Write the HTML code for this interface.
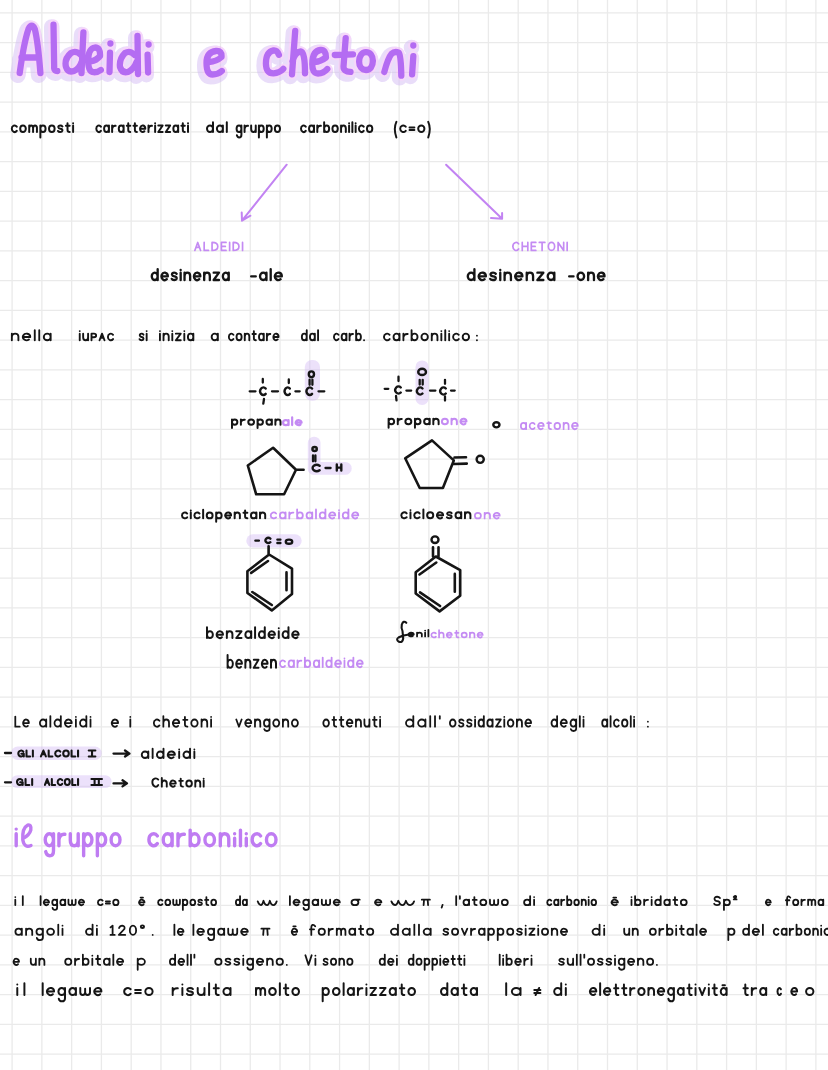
<!DOCTYPE html>
<html><head><meta charset="utf-8"><title>Aldeidi e chetoni</title>
<style>html,body{margin:0;padding:0;background:#fff;width:828px;height:1070px;overflow:hidden}
svg{display:block;font-family:"Liberation Sans",sans-serif}</style></head>
<body>
<svg width="828" height="1070" viewBox="0 0 828 1070"><rect width="828" height="1070" fill="#ffffff"/><g stroke="#eaeaea" stroke-width="1.3">
<line x1="12.10" y1="0" x2="12.10" y2="1070"/>
<line x1="41.87" y1="0" x2="41.87" y2="1070"/>
<line x1="71.64" y1="0" x2="71.64" y2="1070"/>
<line x1="101.41" y1="0" x2="101.41" y2="1070"/>
<line x1="131.18" y1="0" x2="131.18" y2="1070"/>
<line x1="160.95" y1="0" x2="160.95" y2="1070"/>
<line x1="190.72" y1="0" x2="190.72" y2="1070"/>
<line x1="220.49" y1="0" x2="220.49" y2="1070"/>
<line x1="250.26" y1="0" x2="250.26" y2="1070"/>
<line x1="280.03" y1="0" x2="280.03" y2="1070"/>
<line x1="309.80" y1="0" x2="309.80" y2="1070"/>
<line x1="339.57" y1="0" x2="339.57" y2="1070"/>
<line x1="369.34" y1="0" x2="369.34" y2="1070"/>
<line x1="399.11" y1="0" x2="399.11" y2="1070"/>
<line x1="428.88" y1="0" x2="428.88" y2="1070"/>
<line x1="458.65" y1="0" x2="458.65" y2="1070"/>
<line x1="488.42" y1="0" x2="488.42" y2="1070"/>
<line x1="518.19" y1="0" x2="518.19" y2="1070"/>
<line x1="547.96" y1="0" x2="547.96" y2="1070"/>
<line x1="577.73" y1="0" x2="577.73" y2="1070"/>
<line x1="607.50" y1="0" x2="607.50" y2="1070"/>
<line x1="637.27" y1="0" x2="637.27" y2="1070"/>
<line x1="667.04" y1="0" x2="667.04" y2="1070"/>
<line x1="696.81" y1="0" x2="696.81" y2="1070"/>
<line x1="726.58" y1="0" x2="726.58" y2="1070"/>
<line x1="756.35" y1="0" x2="756.35" y2="1070"/>
<line x1="786.12" y1="0" x2="786.12" y2="1070"/>
<line x1="815.89" y1="0" x2="815.89" y2="1070"/>
<line x1="0" y1="12.90" x2="828" y2="12.90"/>
<line x1="0" y1="42.65" x2="828" y2="42.65"/>
<line x1="0" y1="72.40" x2="828" y2="72.40"/>
<line x1="0" y1="102.15" x2="828" y2="102.15"/>
<line x1="0" y1="131.90" x2="828" y2="131.90"/>
<line x1="0" y1="161.65" x2="828" y2="161.65"/>
<line x1="0" y1="191.40" x2="828" y2="191.40"/>
<line x1="0" y1="221.15" x2="828" y2="221.15"/>
<line x1="0" y1="250.90" x2="828" y2="250.90"/>
<line x1="0" y1="280.65" x2="828" y2="280.65"/>
<line x1="0" y1="310.40" x2="828" y2="310.40"/>
<line x1="0" y1="340.15" x2="828" y2="340.15"/>
<line x1="0" y1="369.90" x2="828" y2="369.90"/>
<line x1="0" y1="399.65" x2="828" y2="399.65"/>
<line x1="0" y1="429.40" x2="828" y2="429.40"/>
<line x1="0" y1="459.15" x2="828" y2="459.15"/>
<line x1="0" y1="488.90" x2="828" y2="488.90"/>
<line x1="0" y1="518.65" x2="828" y2="518.65"/>
<line x1="0" y1="548.40" x2="828" y2="548.40"/>
<line x1="0" y1="578.15" x2="828" y2="578.15"/>
<line x1="0" y1="607.90" x2="828" y2="607.90"/>
<line x1="0" y1="637.65" x2="828" y2="637.65"/>
<line x1="0" y1="667.40" x2="828" y2="667.40"/>
<line x1="0" y1="697.15" x2="828" y2="697.15"/>
<line x1="0" y1="726.90" x2="828" y2="726.90"/>
<line x1="0" y1="756.65" x2="828" y2="756.65"/>
<line x1="0" y1="786.40" x2="828" y2="786.40"/>
<line x1="0" y1="816.15" x2="828" y2="816.15"/>
<line x1="0" y1="845.90" x2="828" y2="845.90"/>
<line x1="0" y1="875.65" x2="828" y2="875.65"/>
<line x1="0" y1="905.40" x2="828" y2="905.40"/>
<line x1="0" y1="935.15" x2="828" y2="935.15"/>
<line x1="0" y1="964.90" x2="828" y2="964.90"/>
<line x1="0" y1="994.65" x2="828" y2="994.65"/>
<line x1="0" y1="1024.40" x2="828" y2="1024.40"/>
<line x1="0" y1="1054.15" x2="828" y2="1054.15"/>
</g>
<g opacity="0.42"><rect x="304.8" y="360" width="15.20" height="40.70" rx="7" fill="#d2b8f5"/>
<rect x="415.5" y="360.4" width="13.20" height="44.60" rx="6.5" fill="#d2b8f5"/>
<rect x="307.8" y="436.8" width="12.70" height="38.00" rx="6" fill="#d2b8f5"/>
<rect x="307.8" y="462" width="43.90" height="12.80" rx="6.4" fill="#d2b8f5"/>
<rect x="246.3" y="534.3" width="55.40" height="13.10" rx="6.550000000000011" fill="#d2b8f5"/>
<rect x="11" y="746.6" width="90.70" height="13.40" rx="6.7" fill="#d2b8f5"/>
<rect x="11" y="775.2" width="100.60" height="12.80" rx="6.4" fill="#d2b8f5"/></g>
<g fill="none" stroke-linecap="round" stroke-linejoin="round"><g opacity="0.5"><path d="M19.7,73 Q24,42 28.5,29 Q31.7,22.5 34.8,29 Q38,42 40.4,73 M21.5,57.5 L39,57.5 M53.5,24.7 L54.2,68.5 Q54.6,71 57.3,71 M81,55 Q76,50 71,53 Q64,59 66,67 Q68,73 74,71 Q80,68 81.5,62 M83.4,32.4 L81.5,73 M90.5,61.5 Q96.5,60.5 100,56 Q100.5,47.5 95,47.5 Q88,48.5 88.2,61.5 Q88.5,72 93.5,72.2 Q97.5,72.5 100.8,70 M110.4,43.5 L110.4,43.6 M110,52.7 L109.5,72 M134.5,55 Q130,50 125,53 Q119,59 120,67 Q122,73.5 128,72 Q134,69 136.5,62 M137.5,35.8 L138,74 M148.6,44.5 L148.6,44.6 M147.6,54.6 L148.1,72.5 M209,62 Q216.5,61.5 221.5,57 Q222,50.5 216,51 Q206.5,52 206.5,63 Q206.5,74.5 212.5,74.5 Q218,74.5 221.8,71 M278.9,54.8 Q277,50 273.5,50.4 Q266,52 265.9,63.5 Q266,73.5 273.5,73.3 Q279.5,73 283.3,68.9 M295.2,30.9 L292,74.3 M292.5,61.3 Q295,52 300.7,51.5 Q305,52 305,73.3 M314.5,62 Q321,61.5 326,57.5 Q326,49.5 320.5,50 Q312.5,51 312.3,63.5 Q312,73.5 318,73.5 Q323.5,73.5 327.3,69 M345.7,38.1 L343.5,66.5 Q343.5,72 350.5,71.9 M334.8,55 L353,54.4 M366,52.1 C361.9,52.1 359.1,56.3 359.1,61.5 C359.1,66.5 361.9,70 366,70 C370.2,70 372.9,66 372.9,60.8 C372.9,55.8 370.2,52.1 366,52.1 Z M384.3,72 Q388,58 391.6,53.8 Q394.5,51 398.8,52.6 Q401,56 401.3,75.6 M413.3,45.4 L413.3,45.5 M413.3,56.2 L412.1,74.3" stroke="#d4bcf5" stroke-width="15.5" transform="translate(-1.8,2.2)"/><path d="M19.7,73 Q24,42 28.5,29 Q31.7,22.5 34.8,29 Q38,42 40.4,73 M21.5,57.5 L39,57.5 M53.5,24.7 L54.2,68.5 Q54.6,71 57.3,71 M81,55 Q76,50 71,53 Q64,59 66,67 Q68,73 74,71 Q80,68 81.5,62 M83.4,32.4 L81.5,73 M90.5,61.5 Q96.5,60.5 100,56 Q100.5,47.5 95,47.5 Q88,48.5 88.2,61.5 Q88.5,72 93.5,72.2 Q97.5,72.5 100.8,70 M110.4,43.5 L110.4,43.6 M110,52.7 L109.5,72 M134.5,55 Q130,50 125,53 Q119,59 120,67 Q122,73.5 128,72 Q134,69 136.5,62 M137.5,35.8 L138,74 M148.6,44.5 L148.6,44.6 M147.6,54.6 L148.1,72.5 M209,62 Q216.5,61.5 221.5,57 Q222,50.5 216,51 Q206.5,52 206.5,63 Q206.5,74.5 212.5,74.5 Q218,74.5 221.8,71 M278.9,54.8 Q277,50 273.5,50.4 Q266,52 265.9,63.5 Q266,73.5 273.5,73.3 Q279.5,73 283.3,68.9 M295.2,30.9 L292,74.3 M292.5,61.3 Q295,52 300.7,51.5 Q305,52 305,73.3 M314.5,62 Q321,61.5 326,57.5 Q326,49.5 320.5,50 Q312.5,51 312.3,63.5 Q312,73.5 318,73.5 Q323.5,73.5 327.3,69 M345.7,38.1 L343.5,66.5 Q343.5,72 350.5,71.9 M334.8,55 L353,54.4 M366,52.1 C361.9,52.1 359.1,56.3 359.1,61.5 C359.1,66.5 361.9,70 366,70 C370.2,70 372.9,66 372.9,60.8 C372.9,55.8 370.2,52.1 366,52.1 Z M384.3,72 Q388,58 391.6,53.8 Q394.5,51 398.8,52.6 Q401,56 401.3,75.6 M413.3,45.4 L413.3,45.5 M413.3,56.2 L412.1,74.3" stroke="#efb0f7" stroke-width="10.5"/></g><path d="M19.7,73 Q24,42 28.5,29 Q31.7,22.5 34.8,29 Q38,42 40.4,73 M21.5,57.5 L39,57.5 M53.5,24.7 L54.2,68.5 Q54.6,71 57.3,71 M81,55 Q76,50 71,53 Q64,59 66,67 Q68,73 74,71 Q80,68 81.5,62 M83.4,32.4 L81.5,73 M90.5,61.5 Q96.5,60.5 100,56 Q100.5,47.5 95,47.5 Q88,48.5 88.2,61.5 Q88.5,72 93.5,72.2 Q97.5,72.5 100.8,70 M110.4,43.5 L110.4,43.6 M110,52.7 L109.5,72 M134.5,55 Q130,50 125,53 Q119,59 120,67 Q122,73.5 128,72 Q134,69 136.5,62 M137.5,35.8 L138,74 M148.6,44.5 L148.6,44.6 M147.6,54.6 L148.1,72.5 M209,62 Q216.5,61.5 221.5,57 Q222,50.5 216,51 Q206.5,52 206.5,63 Q206.5,74.5 212.5,74.5 Q218,74.5 221.8,71 M278.9,54.8 Q277,50 273.5,50.4 Q266,52 265.9,63.5 Q266,73.5 273.5,73.3 Q279.5,73 283.3,68.9 M295.2,30.9 L292,74.3 M292.5,61.3 Q295,52 300.7,51.5 Q305,52 305,73.3 M314.5,62 Q321,61.5 326,57.5 Q326,49.5 320.5,50 Q312.5,51 312.3,63.5 Q312,73.5 318,73.5 Q323.5,73.5 327.3,69 M345.7,38.1 L343.5,66.5 Q343.5,72 350.5,71.9 M334.8,55 L353,54.4 M366,52.1 C361.9,52.1 359.1,56.3 359.1,61.5 C359.1,66.5 361.9,70 366,70 C370.2,70 372.9,66 372.9,60.8 C372.9,55.8 370.2,52.1 366,52.1 Z M384.3,72 Q388,58 391.6,53.8 Q394.5,51 398.8,52.6 Q401,56 401.3,75.6 M413.3,45.4 L413.3,45.5 M413.3,56.2 L412.1,74.3" stroke="#b46cf2" stroke-width="6.3"/></g>
<g fill="none" stroke-linecap="round" stroke-linejoin="round"><path d="M16.74,126.65C15.98,125.6 14.74,125.27 13.63,125.69C12.53,126.16 11.79,127.38 11.79,128.75C11.79,130.12 12.53,131.34 13.63,131.81C14.74,132.39 15.98,131.9 16.74,130.85M25.8,128.75C25.8,130.55 24.54,132.01 23,132.01C21.45,132.01 20.19,130.55 20.19,128.75C20.19,126.95 21.45,125.49 23,125.49C24.54,125.49 25.8,126.95 25.8,128.75M29.22,125.49L29.22,132.01M29.22,128.1Q29.53,125.49 31.15,125.49Q33.08,125.49 33.08,128.1L33.08,132.01M33.08,128.1Q33.39,125.49 35.01,125.49Q36.94,125.49 36.94,128.1L36.94,132.01M40.36,125.49L40.36,137.49M45.59,128.75C45.59,130.55 44.42,132.01 42.98,132.01C41.54,132.01 40.36,130.55 40.36,128.75C40.36,126.95 41.54,125.49 42.98,125.49C44.42,125.49 45.59,126.95 45.59,128.75M54.62,128.75C54.62,130.55 53.37,132.01 51.82,132.01C50.27,132.01 49.02,130.55 49.02,128.75C49.02,126.95 50.27,125.49 51.82,125.49C53.37,125.49 54.62,126.95 54.62,128.75M62.4,126.47Q61.78,125.49 60.29,125.49Q58.17,125.49 58.29,127.19Q58.54,128.62 60.41,128.75Q62.53,129.01 62.4,130.58Q62.15,132.01 60.16,132.01Q58.54,132.01 58.04,130.97M67.51,123.14L67.51,130.05Q67.51,132.01 69.69,132.01M65.95,125.82L69.69,125.82M73.11,125.49L73.11,132.01M73.11,123.14L73.12,123.14M100.88,126.65C100.18,125.6 99.03,125.27 98,125.69C96.97,126.16 96.29,127.38 96.29,128.75C96.29,130.12 96.97,131.34 98,131.81C99.03,132.39 100.18,131.9 100.88,130.85M108.95,128.75C108.95,130.55 107.86,132.01 106.52,132.01C105.18,132.01 104.09,130.55 104.09,128.75C104.09,126.95 105.18,125.49 106.52,125.49C107.86,125.49 108.95,126.95 108.95,128.75M108.95,125.49L108.95,132.01M112.13,125.49L112.13,132.01M112.13,128.75Q112.7,125.49 115.59,125.82M123.63,128.75C123.63,130.55 122.54,132.01 121.2,132.01C119.86,132.01 118.77,130.55 118.77,128.75C118.77,126.95 119.86,125.49 121.2,125.49C122.54,125.49 123.63,126.95 123.63,128.75M123.63,125.49L123.63,132.01M128.25,123.14L128.25,130.05Q128.25,132.01 130.27,132.01M126.81,125.82L130.27,125.82M134.9,123.14L134.9,130.05Q134.9,132.01 136.92,132.01M133.45,125.82L136.92,125.82M140.33,128.75L145.3,128.75C145.3,127.22 144.45,125.9 143.26,125.57C142.07,125.29 140.86,125.99 140.34,127.37C139.83,128.76 140.15,130.41 141.12,131.34C142.08,132.37 143.44,132.32 144.37,131.25M148.48,125.49L148.48,132.01M148.48,128.75Q149.06,125.49 151.95,125.82M155.12,125.49L155.12,132.01M155.12,123.14L155.13,123.14M158.3,125.49L162.64,125.49L158.3,132.01L162.64,132.01M165.82,125.49L170.15,125.49L165.82,132.01L170.15,132.01M178.18,128.75C178.18,130.55 177.1,132.01 175.76,132.01C174.42,132.01 173.33,130.55 173.33,128.75C173.33,126.95 174.42,125.49 175.76,125.49C177.1,125.49 178.18,126.95 178.18,128.75M178.18,125.49L178.18,132.01M182.81,123.14L182.81,130.05Q182.81,132.01 184.83,132.01M181.36,125.82L184.83,125.82M188.01,125.49L188.01,132.01M188.01,123.14L188.02,123.14M212.98,128.75C212.98,130.55 211.64,132.01 209.98,132.01C208.33,132.01 206.99,130.55 206.99,128.75C206.99,126.95 208.33,125.49 209.98,125.49C211.64,125.49 212.98,126.95 212.98,128.75M212.98,122.36L212.98,132.01M222.89,128.75C222.89,130.55 221.55,132.01 219.89,132.01C218.24,132.01 216.9,130.55 216.9,128.75C216.9,126.95 218.24,125.49 219.89,125.49C221.55,125.49 222.89,126.95 222.89,128.75M222.89,125.49L222.89,132.01M226.81,122.36L226.81,132.01M241.41,128.75C241.41,130.55 240.33,132.01 239,132.01C237.67,132.01 236.59,130.55 236.59,128.75C236.59,126.95 237.67,125.49 239,125.49C240.33,125.49 241.41,126.95 241.41,128.75M241.41,125.49L241.41,134.75Q241.41,137.49 239.17,137.49Q237.28,137.49 236.88,135.2M244.56,125.49L244.56,132.01M244.56,128.75Q245.14,125.49 248,125.82M251.16,125.49L251.16,129.08Q251.16,132.01 253.45,132.01Q255.75,132.01 255.75,129.08M255.75,125.49L255.75,132.01M258.9,125.49L258.9,137.49M263.72,128.75C263.72,130.55 262.64,132.01 261.31,132.01C259.98,132.01 258.9,130.55 258.9,128.75C258.9,126.95 259.98,125.49 261.31,125.49C262.64,125.49 263.72,126.95 263.72,128.75M266.88,125.49L266.88,137.49M271.69,128.75C271.69,130.55 270.61,132.01 269.28,132.01C267.95,132.01 266.88,130.55 266.88,128.75C266.88,126.95 267.95,125.49 269.28,125.49C270.61,125.49 271.69,126.95 271.69,128.75M280.01,128.75C280.01,130.55 278.85,132.01 277.43,132.01C276,132.01 274.85,130.55 274.85,128.75C274.85,126.95 276,125.49 277.43,125.49C278.85,125.49 280.01,126.95 280.01,128.75M305.72,126.65C305,125.6 303.81,125.27 302.75,125.69C301.69,126.16 300.99,127.38 300.99,128.75C300.99,130.12 301.69,131.34 302.75,131.81C303.81,132.39 305,131.9 305.72,130.85M314.03,128.75C314.03,130.55 312.91,132.01 311.53,132.01C310.15,132.01 309.03,130.55 309.03,128.75C309.03,126.95 310.15,125.49 311.53,125.49C312.91,125.49 314.03,126.95 314.03,128.75M314.03,125.49L314.03,132.01M317.3,125.49L317.3,132.01M317.3,128.75Q317.9,125.49 320.87,125.82M324.15,122.36L324.15,132.01M329.15,128.75C329.15,130.55 328.03,132.01 326.65,132.01C325.27,132.01 324.15,130.55 324.15,128.75C324.15,126.95 325.27,125.49 326.65,125.49C328.03,125.49 329.15,126.95 329.15,128.75M337.78,128.75C337.78,130.55 336.58,132.01 335.1,132.01C333.62,132.01 332.42,130.55 332.42,128.75C332.42,126.95 333.62,125.49 335.1,125.49C336.58,125.49 337.78,126.95 337.78,128.75M341.06,125.49L341.06,132.01M341.06,128.42Q341.35,125.49 343.44,125.49Q345.82,125.49 345.82,128.42L345.82,132.01M349.09,125.49L349.09,132.01M349.09,123.14L349.1,123.14M352.37,122.36L352.37,132.01M355.64,125.49L355.64,132.01M355.64,123.14L355.65,123.14M363.65,126.65C362.92,125.6 361.74,125.27 360.68,125.69C359.62,126.16 358.92,127.38 358.92,128.75C358.92,130.12 359.62,131.34 360.68,131.81C361.74,132.39 362.92,131.9 363.65,130.85M372.31,128.75C372.31,130.55 371.11,132.01 369.63,132.01C368.15,132.01 366.95,130.55 366.95,128.75C366.95,126.95 368.15,125.49 369.63,125.49C371.11,125.49 372.31,126.95 372.31,128.75M396.37,121.84Q393.25,128.42 396.37,137.49M405.68,126.65C404.84,125.6 403.46,125.27 402.23,125.69C401,126.16 400.18,127.38 400.18,128.75C400.18,130.12 401,131.34 402.23,131.81C403.46,132.39 404.84,131.9 405.68,130.85M409.53,127.45L414.38,127.45M409.53,130.05L414.38,130.05M424.42,128.75C424.42,130.55 423.03,132.01 421.31,132.01C419.58,132.01 418.19,130.55 418.19,128.75C418.19,126.95 419.58,125.49 421.31,125.49C423.03,125.49 424.42,126.95 424.42,128.75M428.23,121.84Q431.35,128.42 428.23,137.49" stroke="#151515" stroke-width="1.98"/>
<path d="M194.85,250.45L197.72,242.45L200.59,250.45M195.93,247.41L199.51,247.41M204.17,242.45L204.17,250.45L208.48,250.45M212.07,242.45L212.07,250.45Q217.8,250.45 217.8,246.45Q217.8,242.45 212.07,242.45M226.05,242.45L221.39,242.45L221.39,250.45L226.05,250.45M221.39,246.45L225.33,246.45M229.64,242.45L229.64,250.45M233.23,242.45L233.23,250.45Q238.96,250.45 238.96,246.45Q238.96,242.45 233.23,242.45M242.55,242.45L242.55,250.45M518.63,243.88C517.74,242.59 516.3,242.12 515,242.69C513.71,243.27 512.85,244.77 512.85,246.45C512.85,248.13 513.71,249.63 515,250.21C516.3,250.78 517.74,250.31 518.63,249.02M522.25,242.45L522.25,250.45M527.82,242.45L527.82,250.45M522.25,246.45L527.82,246.45M535.82,242.45L531.3,242.45L531.3,250.45L535.82,250.45M531.3,246.45L535.13,246.45M539.3,242.45L544.87,242.45M542.09,242.45L542.09,250.45M554.62,246.45C554.62,248.66 553.22,250.45 551.49,250.45C549.76,250.45 548.35,248.66 548.35,246.45C548.35,244.24 549.76,242.45 551.49,242.45C553.22,242.45 554.62,244.24 554.62,246.45M558.1,250.45L558.1,242.45L563.67,250.45L563.67,242.45M567.15,242.45L567.15,250.45" stroke="#c48bf3" stroke-width="1.7"/>
<path d="M157.67,276.35C157.67,278.38 156.35,280.03 154.72,280.03C153.09,280.03 151.77,278.38 151.77,276.35C151.77,274.32 153.09,272.67 154.72,272.67C156.35,272.67 157.67,274.32 157.67,276.35M157.67,269.14L157.67,280.03M161.82,276.35L167.86,276.35C167.86,274.62 166.83,273.13 165.39,272.76C163.94,272.44 162.46,273.23 161.84,274.79C161.21,276.36 161.6,278.22 162.78,279.27C163.95,280.32 165.6,280.28 166.74,279.17M176.65,273.77Q175.95,272.67 174.26,272.67Q171.87,272.67 172.01,274.58Q172.29,276.2 174.4,276.35Q176.79,276.64 176.65,278.41Q176.37,280.03 174.12,280.03Q172.29,280.03 171.73,278.85M180.66,272.67L180.66,280.03M180.66,270.02L180.66,270.02M184.52,272.67L184.52,280.03M184.52,275.98Q184.87,272.67 187.33,272.67Q190.14,272.67 190.14,275.98L190.14,280.03M194.29,276.35L200.34,276.35C200.34,274.62 199.31,273.13 197.86,272.76C196.41,272.44 194.93,273.23 194.31,274.79C193.68,276.36 194.07,278.22 195.25,279.27C196.42,280.32 198.07,280.28 199.21,279.17M204.2,272.67L204.2,280.03M204.2,275.98Q204.55,272.67 207.01,272.67Q209.82,272.67 209.82,275.98L209.82,280.03M213.69,272.67L218.96,272.67L213.69,280.03L218.96,280.03M228.73,276.35C228.73,278.38 227.41,280.03 225.78,280.03C224.15,280.03 222.83,278.38 222.83,276.35C222.83,274.32 224.15,272.67 225.78,272.67C227.41,272.67 228.73,274.32 228.73,276.35M228.73,272.67L228.73,280.03M251.17,276.35L255.78,276.35M266.46,276.35C266.46,278.38 265.02,280.03 263.23,280.03C261.45,280.03 260.01,278.38 260.01,276.35C260.01,274.32 261.45,272.67 263.23,272.67C265.02,272.67 266.46,274.32 266.46,276.35M266.46,272.67L266.46,280.03M270.69,269.14L270.69,280.03M275.22,276.35L281.83,276.35C281.83,274.62 280.7,273.13 279.12,272.76C277.54,272.44 275.92,273.23 275.24,274.79C274.55,276.36 274.98,278.22 276.27,279.27C277.55,280.32 279.35,280.28 280.59,279.17M474.41,276.35C474.41,278.38 472.92,280.03 471.09,280.03C469.26,280.03 467.77,278.38 467.77,276.35C467.77,274.32 469.26,272.67 471.09,272.67C472.92,272.67 474.41,274.32 474.41,276.35M474.41,269.14L474.41,280.03M479.07,276.35L485.87,276.35C485.87,274.62 484.71,273.13 483.09,272.76C481.46,272.44 479.8,273.23 479.09,274.79C478.39,276.36 478.83,278.22 480.15,279.27C481.47,280.32 483.32,280.28 484.6,279.17M495.75,273.77Q494.96,272.67 493.07,272.67Q490.38,272.67 490.54,274.58Q490.85,276.2 493.22,276.35Q495.91,276.64 495.75,278.41Q495.44,280.03 492.91,280.03Q490.85,280.03 490.22,278.85M500.26,272.67L500.26,280.03M500.26,270.02L500.27,270.02M504.61,272.67L504.61,280.03M504.61,275.98Q505,272.67 507.77,272.67Q510.93,272.67 510.93,275.98L510.93,280.03M515.6,276.35L522.39,276.35C522.39,274.62 521.23,273.13 519.61,272.76C517.98,272.44 516.32,273.23 515.61,274.79C514.91,276.36 515.35,278.22 516.67,279.27C517.99,280.32 519.85,280.28 521.12,279.17M526.74,272.67L526.74,280.03M526.74,275.98Q527.14,272.67 529.9,272.67Q533.07,272.67 533.07,275.98L533.07,280.03M537.41,272.67L543.34,272.67L537.41,280.03L543.34,280.03M554.33,276.35C554.33,278.38 552.84,280.03 551.01,280.03C549.18,280.03 547.69,278.38 547.69,276.35C547.69,274.32 549.18,272.67 551.01,272.67C552.84,272.67 554.33,274.32 554.33,276.35M554.33,272.67L554.33,280.03M569.17,276.35L573.54,276.35M584.12,276.35C584.12,278.38 582.65,280.03 580.84,280.03C579.02,280.03 577.55,278.38 577.55,276.35C577.55,274.32 579.02,272.67 580.84,272.67C582.65,272.67 584.12,274.32 584.12,276.35M588.13,272.67L588.13,280.03M588.13,275.98Q588.49,272.67 591.04,272.67Q593.96,272.67 593.96,275.98L593.96,280.03M598.26,276.35L604.53,276.35C604.53,274.62 603.46,273.13 601.96,272.76C600.46,272.44 598.93,273.23 598.28,274.79C597.63,276.36 598.03,278.22 599.25,279.27C600.47,280.32 602.18,280.28 603.36,279.17" stroke="#151515" stroke-width="2.34"/>
<path d="M11.85,333.64L11.85,340.25M11.85,336.62Q12.25,333.64 15.12,333.64Q18.4,333.64 18.4,336.62L18.4,340.25M23.23,336.95L30.27,336.95C30.27,335.4 29.07,334.06 27.38,333.72C25.69,333.43 23.97,334.15 23.24,335.55C22.51,336.96 22.97,338.63 24.34,339.57C25.71,340.52 27.63,340.48 28.95,339.48M34.77,330.27L34.77,340.25M39.27,330.27L39.27,340.25M50.66,336.95C50.66,338.78 49.12,340.25 47.22,340.25C45.32,340.25 43.78,338.78 43.78,336.95C43.78,335.12 45.32,333.64 47.22,333.64C49.12,333.64 50.66,335.12 50.66,336.95M50.66,333.64L50.66,340.25M79.74,333.64L79.74,340.25M79.74,331.12L79.75,331.12M83.15,333.64L83.15,337.28Q83.15,340.25 85.62,340.25Q88.1,340.25 88.1,337.28M88.1,333.64L88.1,340.25M91.5,340.25L91.5,333.64L93.98,333.64Q96.14,333.64 96.14,335.5Q96.14,337.28 93.98,337.28L91.5,337.28M99.54,340.25L102.02,333.64L104.49,340.25M100.47,337.74L103.57,337.74M113.03,334.83C112.25,333.76 110.96,333.41 109.81,333.84C108.66,334.32 107.9,335.56 107.9,336.95C107.9,338.34 108.66,339.58 109.81,340.06C110.96,340.53 112.25,340.14 113.03,339.07M143.46,334.64Q142.9,333.64 141.56,333.64Q139.66,333.64 139.77,335.36Q139.99,336.82 141.67,336.95Q143.58,337.21 143.46,338.8Q143.24,340.25 141.45,340.25Q139.99,340.25 139.54,339.2M146.66,333.64L146.66,340.25M146.66,331.12L146.66,331.12M159.94,333.64L159.94,340.25M159.94,331.12L159.95,331.12M163.52,333.64L163.52,340.25M163.52,336.62Q163.84,333.64 166.12,333.64Q168.72,333.64 168.72,336.62L168.72,340.25M172.3,333.64L172.3,340.25M172.3,331.12L172.3,331.12M175.87,333.64L180.75,333.64L175.87,340.25L180.75,340.25M184.32,333.64L184.32,340.25M184.32,331.12L184.33,331.12M193.36,336.95C193.36,338.78 192.13,340.25 190.63,340.25C189.12,340.25 187.9,338.78 187.9,336.95C187.9,335.12 189.12,333.64 190.63,333.64C192.13,333.64 193.36,335.12 193.36,336.95M193.36,333.64L193.36,340.25M217.86,336.95C217.86,338.78 216.46,340.25 214.75,340.25C213.04,340.25 211.64,338.78 211.64,336.95C211.64,335.12 213.04,333.64 214.75,333.64C216.46,333.64 217.86,335.12 217.86,336.95M217.86,333.64L217.86,340.25M233.37,334.83C232.67,333.76 231.54,333.41 230.53,333.84C229.52,334.32 228.84,335.56 228.84,336.95C228.84,338.34 229.52,339.58 230.53,340.06C231.54,340.53 232.67,340.14 233.37,339.07M241.64,336.95C241.64,338.78 240.5,340.25 239.08,340.25C237.67,340.25 236.52,338.78 236.52,336.95C236.52,335.12 237.67,333.64 239.08,333.64C240.5,333.64 241.64,335.12 241.64,336.95M244.77,333.64L244.77,340.25M244.77,336.62Q245.05,333.64 247.05,333.64Q249.32,333.64 249.32,336.62L249.32,340.25M253.87,331.12L253.87,338.27Q253.87,340.25 255.86,340.25M252.45,333.98L255.86,333.98M263.77,336.95C263.77,338.78 262.7,340.25 261.38,340.25C260.06,340.25 258.99,338.78 258.99,336.95C258.99,335.12 260.06,333.64 261.38,333.64C262.7,333.64 263.77,335.12 263.77,336.95M263.77,333.64L263.77,340.25M266.9,333.64L266.9,340.25M266.9,336.95Q267.46,333.64 270.31,333.98M273.66,336.95L278.56,336.95C278.56,335.4 277.72,334.06 276.55,333.72C275.38,333.43 274.18,334.15 273.68,335.55C273.17,336.96 273.49,338.63 274.44,339.57C275.39,340.52 276.72,340.48 277.64,339.48M306.74,336.95C306.74,338.78 305.65,340.25 304.29,340.25C302.94,340.25 301.84,338.78 301.84,336.95C301.84,335.12 302.94,333.64 304.29,333.64C305.65,333.64 306.74,335.12 306.74,336.95M306.74,330.27L306.74,340.25M314.85,336.95C314.85,338.78 313.75,340.25 312.4,340.25C311.05,340.25 309.95,338.78 309.95,336.95C309.95,335.12 311.05,333.64 312.4,333.64C313.75,333.64 314.85,335.12 314.85,336.95M314.85,333.64L314.85,340.25M318.06,330.27L318.06,340.25M338.48,334.83C337.78,333.76 336.65,333.41 335.63,333.84C334.62,334.32 333.94,335.56 333.94,336.95C333.94,338.34 334.62,339.58 335.63,340.06C336.65,340.53 337.78,340.14 338.48,339.07M346.43,336.95C346.43,338.78 345.36,340.25 344.04,340.25C342.72,340.25 341.64,338.78 341.64,336.95C341.64,335.12 342.72,333.64 344.04,333.64C345.36,333.64 346.43,335.12 346.43,336.95M346.43,333.64L346.43,340.25M349.57,333.64L349.57,340.25M349.57,336.95Q350.14,333.64 352.99,333.98M356.13,330.27L356.13,340.25M360.92,336.95C360.92,338.78 359.85,340.25 358.52,340.25C357.2,340.25 356.13,338.78 356.13,336.95C356.13,335.12 357.2,333.64 358.52,333.64C359.85,333.64 360.92,335.12 360.92,336.95M364.06,340.25L364.06,340.25M389.59,334.83C388.73,333.76 387.31,333.41 386.05,333.84C384.79,334.32 383.94,335.56 383.94,336.95C383.94,338.34 384.79,339.58 386.05,340.06C387.31,340.53 388.73,340.14 389.59,339.07M399.5,336.95C399.5,338.78 398.17,340.25 396.52,340.25C394.87,340.25 393.54,338.78 393.54,336.95C393.54,335.12 394.87,333.64 396.52,333.64C398.17,333.64 399.5,335.12 399.5,336.95M399.5,333.64L399.5,340.25M403.41,333.64L403.41,340.25M403.41,336.95Q404.12,333.64 407.67,333.98M411.58,330.27L411.58,340.25M417.55,336.95C417.55,338.78 416.21,340.25 414.56,340.25C412.92,340.25 411.58,338.78 411.58,336.95C411.58,335.12 412.92,333.64 414.56,333.64C416.21,333.64 417.55,335.12 417.55,336.95M427.85,336.95C427.85,338.78 426.42,340.25 424.65,340.25C422.89,340.25 421.46,338.78 421.46,336.95C421.46,335.12 422.89,333.64 424.65,333.64C426.42,333.64 427.85,335.12 427.85,336.95M431.76,333.64L431.76,340.25M431.76,336.62Q432.11,333.64 434.6,333.64Q437.44,333.64 437.44,336.62L437.44,340.25M441.35,333.64L441.35,340.25M441.35,331.12L441.36,331.12M445.26,330.27L445.26,340.25M449.16,333.64L449.16,340.25M449.16,331.12L449.17,331.12M458.72,334.83C457.85,333.76 456.44,333.41 455.17,333.84C453.91,334.32 453.07,335.56 453.07,336.95C453.07,338.34 453.91,339.58 455.17,340.06C456.44,340.53 457.85,340.14 458.72,339.07M469.06,336.95C469.06,338.78 467.62,340.25 465.86,340.25C464.09,340.25 462.66,338.78 462.66,336.95C462.66,335.12 464.09,333.64 465.86,333.64C467.62,333.64 469.06,335.12 469.06,336.95M476.94,335.63L476.95,335.63M476.94,340.25L476.95,340.25" stroke="#151515" stroke-width="1.89"/>
<path d="M231.99,419.39L231.99,427.9M237.37,422.05C237.37,423.52 236.17,424.71 234.68,424.71C233.2,424.71 231.99,423.52 231.99,422.05C231.99,420.58 233.2,419.39 234.68,419.39C236.17,419.39 237.37,420.58 237.37,422.05M240.9,419.39L240.9,424.71M240.9,422.05Q241.54,419.39 244.74,419.66M254.04,422.05C254.04,423.52 252.75,424.71 251.15,424.71C249.56,424.71 248.27,423.52 248.27,422.05C248.27,420.58 249.56,419.39 251.15,419.39C252.75,419.39 254.04,420.58 254.04,422.05M257.56,419.39L257.56,427.9M262.95,422.05C262.95,423.52 261.74,424.71 260.26,424.71C258.77,424.71 257.56,423.52 257.56,422.05C257.56,420.58 258.77,419.39 260.26,419.39C261.74,419.39 262.95,420.58 262.95,422.05M271.86,422.05C271.86,423.52 270.65,424.71 269.17,424.71C267.68,424.71 266.47,423.52 266.47,422.05C266.47,420.58 267.68,419.39 269.17,419.39C270.65,419.39 271.86,420.58 271.86,422.05M271.86,419.39L271.86,424.71M275.38,419.39L275.38,424.71M275.38,421.78Q275.7,419.39 277.95,419.39Q280.51,419.39 280.51,421.78L280.51,424.71" stroke="#151515" stroke-width="1.98"/>
<path d="M288.57,422.65C288.57,424 287.35,425.1 285.84,425.1C284.32,425.1 283.1,424 283.1,422.65C283.1,421.3 284.32,420.2 285.84,420.2C287.35,420.2 288.57,421.3 288.57,422.65M288.57,420.2L288.57,425.1M292.15,417.26L292.15,425.1M296,422.65L301.6,422.65C301.6,421.5 300.65,420.51 299.3,420.26C297.96,420.01 296.59,420.57 296.01,421.61C295.43,422.66 295.79,423.89 296.88,424.59C297.97,425.29 299.5,425.27 300.55,424.53" stroke="#c48bf3" stroke-width="2.2"/>
<path d="M388.59,418.69L388.59,427.68M394.14,421.5C394.14,423.05 392.9,424.31 391.37,424.31C389.83,424.31 388.59,423.05 388.59,421.5C388.59,419.95 389.83,418.69 391.37,418.69C392.9,418.69 394.14,419.95 394.14,421.5M397.77,418.69L397.77,424.31M397.77,421.5Q398.44,418.69 401.74,418.97M411.32,421.5C411.32,423.05 409.99,424.31 408.35,424.31C406.7,424.31 405.37,423.05 405.37,421.5C405.37,419.95 406.7,418.69 408.35,418.69C409.99,418.69 411.32,419.95 411.32,421.5M414.95,418.69L414.95,427.68M420.51,421.5C420.51,423.05 419.26,424.31 417.73,424.31C416.2,424.31 414.95,423.05 414.95,421.5C414.95,419.95 416.2,418.69 417.73,418.69C419.26,418.69 420.51,419.95 420.51,421.5M429.69,421.5C429.69,423.05 428.45,424.31 426.91,424.31C425.38,424.31 424.14,423.05 424.14,421.5C424.14,419.95 425.38,418.69 426.91,418.69C428.45,418.69 429.69,419.95 429.69,421.5M429.69,418.69L429.69,424.31M433.32,418.69L433.32,424.31M433.32,421.22Q433.65,418.69 435.97,418.69Q438.61,418.69 438.61,421.22L438.61,424.31" stroke="#151515" stroke-width="1.98"/>
<path d="M447.88,421.5C447.88,423.05 446.54,424.31 444.88,424.31C443.23,424.31 441.89,423.05 441.89,421.5C441.89,419.95 443.23,418.69 444.88,418.69C446.54,418.69 447.88,419.95 447.88,421.5M451.54,418.69L451.54,424.31M451.54,421.22Q451.87,418.69 454.2,418.69Q456.86,418.69 456.86,421.22L456.86,424.31M460.79,421.5L466.51,421.5C466.51,420.18 465.53,419.04 464.16,418.76C462.79,418.47 461.4,419.12 460.8,420.31C460.21,421.51 460.58,422.93 461.69,423.73C462.81,424.53 464.36,424.5 465.44,423.65" stroke="#c48bf3" stroke-width="1.98"/>
<path d="M526.14,426C526.14,427.74 524.95,429.15 523.49,429.15C522.03,429.15 520.85,427.74 520.85,426C520.85,424.26 522.03,422.85 523.49,422.85C524.95,422.85 526.14,424.26 526.14,426M526.14,422.85L526.14,429.15M534.6,423.98C533.84,422.96 532.58,422.77 531.46,423.04C530.34,423.49 529.6,424.68 529.6,426C529.6,427.32 530.34,428.51 531.46,428.96C532.58,429.41 533.84,429.04 534.6,428.02M538.35,426L543.76,426C543.76,424.52 542.84,423.24 541.54,422.92C540.25,422.78 538.92,423.33 538.36,424.67C537.8,426.01 538.15,427.6 539.2,428.5C540.26,429.4 541.73,429.36 542.75,428.41M548.8,422L548.8,427.26Q548.8,429.15 551,429.15M547.22,423.16L551,423.16M560.13,426C560.13,427.74 558.86,429.15 557.29,429.15C555.73,429.15 554.46,427.74 554.46,426C554.46,424.26 555.73,422.85 557.29,422.85C558.86,422.85 560.13,424.26 560.13,426M563.59,422.85L563.59,429.15M563.59,425.69Q563.9,422.85 566.11,422.85Q568.62,422.85 568.62,425.69L568.62,429.15M572.34,426L577.75,426C577.75,424.52 576.83,423.24 575.53,422.92C574.23,422.78 572.91,423.33 572.35,424.67C571.79,426.01 572.14,427.6 573.19,428.5C574.25,429.4 575.72,429.36 576.74,428.41" stroke="#c48bf3" stroke-width="1.7"/>
<path d="M187.17,513.53C186.37,512.59 185.08,512.3 183.92,512.67C182.76,513.08 181.99,514.18 181.99,515.4C181.99,516.62 182.76,517.72 183.92,518.13C185.08,518.55 186.37,518.21 187.17,517.27M190.78,512.49L190.78,518.31M190.78,510.39L190.79,510.39M199.54,513.53C198.75,512.59 197.45,512.3 196.29,512.67C195.13,513.08 194.36,514.18 194.36,515.4C194.36,516.62 195.13,517.72 196.29,518.13C197.45,518.55 198.75,518.21 199.54,517.27M203.15,509.7L203.15,518.31M212.6,515.4C212.6,517.01 211.28,518.31 209.66,518.31C208.05,518.31 206.73,517.01 206.73,515.4C206.73,513.79 208.05,512.49 209.66,512.49C211.28,512.49 212.6,513.79 212.6,515.4M216.18,512.49L216.18,521.8M221.65,515.4C221.65,517.01 220.42,518.31 218.91,518.31C217.4,518.31 216.18,517.01 216.18,515.4C216.18,513.79 217.4,512.49 218.91,512.49C220.42,512.49 221.65,513.79 221.65,515.4M225.49,515.4L231.09,515.4C231.09,514.04 230.13,512.85 228.79,512.56C227.45,512.31 226.08,512.93 225.5,514.17C224.92,515.41 225.28,516.88 226.37,517.71C227.46,518.54 228.99,518.51 230.04,517.63M234.67,512.49L234.67,518.31M234.67,515.11Q235,512.49 237.27,512.49Q239.88,512.49 239.88,515.11L239.88,518.31M245.09,510.39L245.09,516.56Q245.09,518.31 247.37,518.31M243.46,512.78L247.37,512.78M256.42,515.4C256.42,517.01 255.19,518.31 253.68,518.31C252.17,518.31 250.95,517.01 250.95,515.4C250.95,513.79 252.17,512.49 253.68,512.49C255.19,512.49 256.42,513.79 256.42,515.4M256.42,512.49L256.42,518.31M260,512.49L260,518.31M260,515.11Q260.33,512.49 262.61,512.49Q265.21,512.49 265.21,515.11L265.21,518.31" stroke="#151515" stroke-width="1.98"/>
<path d="M276.1,513.47C275.27,512.51 273.92,512.2 272.71,512.58C271.5,513.01 270.7,514.14 270.7,515.4C270.7,516.66 271.5,517.79 272.71,518.22C273.92,518.65 275.27,518.29 276.1,517.33M285.57,515.4C285.57,517.06 284.29,518.4 282.72,518.4C281.14,518.4 279.87,517.06 279.87,515.4C279.87,513.74 281.14,512.4 282.72,512.4C284.29,512.4 285.57,513.74 285.57,515.4M285.57,512.4L285.57,518.4M289.31,512.4L289.31,518.4M289.31,515.4Q289.99,512.4 293.38,512.7M297.12,509.52L297.12,518.4M302.82,515.4C302.82,517.06 301.54,518.4 299.97,518.4C298.39,518.4 297.12,517.06 297.12,515.4C297.12,513.74 298.39,512.4 299.97,512.4C301.54,512.4 302.82,513.74 302.82,515.4M312.26,515.4C312.26,517.06 310.98,518.4 309.41,518.4C307.83,518.4 306.55,517.06 306.55,515.4C306.55,513.74 307.83,512.4 309.41,512.4C310.98,512.4 312.26,513.74 312.26,515.4M312.26,512.4L312.26,518.4M315.99,509.52L315.99,518.4M325.43,515.4C325.43,517.06 324.16,518.4 322.58,518.4C321.01,518.4 319.73,517.06 319.73,515.4C319.73,513.74 321.01,512.4 322.58,512.4C324.16,512.4 325.43,513.74 325.43,515.4M325.43,509.52L325.43,518.4M329.44,515.4L335.28,515.4C335.28,513.99 334.28,512.78 332.89,512.47C331.49,512.21 330.06,512.86 329.45,514.13C328.85,515.41 329.23,516.92 330.36,517.78C331.5,518.64 333.09,518.6 334.19,517.7M339.01,512.4L339.01,518.4M339.01,510.24L339.02,510.24M348.45,515.4C348.45,517.06 347.18,518.4 345.6,518.4C344.03,518.4 342.75,517.06 342.75,515.4C342.75,513.74 344.03,512.4 345.6,512.4C347.18,512.4 348.45,513.74 348.45,515.4M348.45,509.52L348.45,518.4M352.46,515.4L358.3,515.4C358.3,513.99 357.3,512.78 355.91,512.47C354.51,512.21 353.08,512.86 352.47,514.13C351.87,515.41 352.25,516.92 353.38,517.78C354.52,518.64 356.11,518.6 357.21,517.7" stroke="#c48bf3" stroke-width="1.8"/>
<path d="M406.7,513.37C405.87,512.4 404.51,512.09 403.3,512.47C402.09,512.9 401.29,514.03 401.29,515.3C401.29,516.57 402.09,517.7 403.3,518.13C404.51,518.56 405.87,518.2 406.7,517.23M410.47,512.29L410.47,518.31M410.47,510.12L410.48,510.12M419.62,513.37C418.8,512.4 417.44,512.09 416.23,512.47C415.02,512.9 414.22,514.03 414.22,515.3C414.22,516.57 415.02,517.7 416.23,518.13C417.44,518.56 418.8,518.2 419.62,517.23M423.4,509.4L423.4,518.31M433.26,515.3C433.26,516.96 431.89,518.31 430.2,518.31C428.51,518.31 427.14,516.96 427.14,515.3C427.14,513.64 428.51,512.29 430.2,512.29C431.89,512.29 433.26,513.64 433.26,515.3M437.28,515.3L443.13,515.3C443.13,513.89 442.13,512.67 440.73,512.36C439.33,512.1 437.9,512.75 437.29,514.03C436.69,515.31 437.07,516.83 438.2,517.69C439.34,518.55 440.94,518.51 442.04,517.61M451.63,513.19Q450.95,512.29 449.32,512.29Q447.01,512.29 447.14,513.86Q447.42,515.18 449.46,515.3Q451.77,515.54 451.63,516.99Q451.36,518.31 449.18,518.31Q447.42,518.31 446.87,517.35M461.23,515.3C461.23,516.96 459.95,518.31 458.37,518.31C456.79,518.31 455.51,516.96 455.51,515.3C455.51,513.64 456.79,512.29 458.37,512.29C459.95,512.29 461.23,513.64 461.23,515.3M461.23,512.29L461.23,518.31M464.97,512.29L464.97,518.31M464.97,515Q465.31,512.29 467.69,512.29Q470.41,512.29 470.41,515L470.41,518.31" stroke="#151515" stroke-width="1.98"/>
<path d="M480.91,515.65C480.91,517.2 479.55,518.45 477.88,518.45C476.21,518.45 474.85,517.2 474.85,515.65C474.85,514.1 476.21,512.85 477.88,512.85C479.55,512.85 480.91,514.1 480.91,515.65M484.61,512.85L484.61,518.45M484.61,515.37Q484.94,512.85 487.3,512.85Q489.99,512.85 489.99,515.37L489.99,518.45M493.96,515.65L499.75,515.65C499.75,514.34 498.76,513.2 497.38,512.92C495.99,512.63 494.58,513.28 493.98,514.47C493.38,515.66 493.75,517.07 494.88,517.87C496,518.67 497.58,518.64 498.67,517.79" stroke="#c48bf3" stroke-width="1.7"/>
<path d="M206.99,627.26L206.99,638.01M212.86,634.65C212.86,636.51 211.55,638.01 209.93,638.01C208.3,638.01 206.99,636.51 206.99,634.65C206.99,632.79 208.3,631.29 209.93,631.29C211.55,631.29 212.86,632.79 212.86,634.65M216.98,634.65L222.99,634.65C222.99,633.07 221.97,631.71 220.53,631.37C219.09,631.03 217.62,631.8 217,633.23C216.38,634.66 216.76,636.36 217.93,637.32C219.1,638.27 220.74,638.24 221.87,637.22M226.84,631.29L226.84,638.01M226.84,634.31Q227.19,631.29 229.63,631.29Q232.43,631.29 232.43,634.31L232.43,638.01M236.27,631.29L241.51,631.29L236.27,638.01L241.51,638.01M251.23,634.65C251.23,636.51 249.91,638.01 248.29,638.01C246.67,638.01 245.36,636.51 245.36,634.65C245.36,632.79 246.67,631.29 248.29,631.29C249.91,631.29 251.23,632.79 251.23,634.65M251.23,631.29L251.23,638.01M255.07,627.26L255.07,638.01M264.79,634.65C264.79,636.51 263.47,638.01 261.85,638.01C260.23,638.01 258.91,636.51 258.91,634.65C258.91,632.79 260.23,631.29 261.85,631.29C263.47,631.29 264.79,632.79 264.79,634.65M264.79,627.26L264.79,638.01M268.91,634.65L274.92,634.65C274.92,633.07 273.89,631.71 272.45,631.37C271.01,631.03 269.55,631.8 268.92,633.23C268.3,634.66 268.69,636.36 269.86,637.32C271.03,638.27 272.67,638.24 273.8,637.22M278.76,631.29L278.76,638.01M278.76,628.27L278.77,628.27M288.48,634.65C288.48,636.51 287.16,638.01 285.54,638.01C283.92,638.01 282.61,636.51 282.61,634.65C282.61,632.79 283.92,631.29 285.54,631.29C287.16,631.29 288.48,632.79 288.48,634.65M288.48,627.26L288.48,638.01M292.6,634.65L298.61,634.65C298.61,633.07 297.59,631.71 296.15,631.37C294.71,631.03 293.24,631.8 292.61,633.23C291.99,634.66 292.38,636.36 293.55,637.32C294.72,638.27 296.36,638.24 297.49,637.22" stroke="#151515" stroke-width="1.98"/>
<path d="M227.59,654.98L227.59,667.81M232.84,663.8C232.84,666.01 231.67,667.81 230.22,667.81C228.77,667.81 227.59,666.01 227.59,663.8C227.59,661.59 228.77,659.79 230.22,659.79C231.67,659.79 232.84,661.59 232.84,663.8M236.54,663.8L241.92,663.8C241.92,661.92 241,660.29 239.71,659.89C238.42,659.48 237.11,660.4 236.55,662.11C235.99,663.81 236.34,665.84 237.39,666.98C238.43,668.13 239.9,668.08 240.91,666.87M245.36,659.79L245.36,667.81M245.36,663.4Q245.67,659.79 247.86,659.79Q250.36,659.79 250.36,663.4L250.36,667.81M253.8,659.79L258.49,659.79L253.8,667.81L258.49,667.81M262.18,663.8L267.56,663.8C267.56,661.92 266.65,660.29 265.36,659.89C264.07,659.48 262.76,660.4 262.2,662.11C261.64,663.81 261.99,665.84 263.04,666.98C264.08,668.13 265.55,668.08 266.56,666.87M271.01,659.79L271.01,667.81M271.01,663.4Q271.32,659.79 273.51,659.79Q276.01,659.79 276.01,663.4L276.01,667.81" stroke="#151515" stroke-width="1.98"/>
<path d="M285,661.6C284.22,660.52 282.94,660.2 281.8,660.6C280.66,661.08 279.9,662.34 279.9,663.75C279.9,665.16 280.66,666.42 281.8,666.9C282.94,667.38 284.22,666.98 285,665.9M293.96,663.75C293.96,665.6 292.75,667.1 291.26,667.1C289.77,667.1 288.57,665.6 288.57,663.75C288.57,661.9 289.77,660.4 291.26,660.4C292.75,660.4 293.96,661.9 293.96,663.75M293.96,660.4L293.96,667.1M297.49,660.4L297.49,667.1M297.49,663.75Q298.13,660.4 301.34,660.74M304.87,657.59L304.87,667.1M310.26,663.75C310.26,665.6 309.05,667.1 307.56,667.1C306.08,667.1 304.87,665.6 304.87,663.75C304.87,661.9 306.08,660.4 307.56,660.4C309.05,660.4 310.26,661.9 310.26,663.75M319.18,663.75C319.18,665.6 317.97,667.1 316.49,667.1C315,667.1 313.79,665.6 313.79,663.75C313.79,661.9 315,660.4 316.49,660.4C317.97,660.4 319.18,661.9 319.18,663.75M319.18,660.4L319.18,667.1M322.71,657.59L322.71,667.1M331.63,663.75C331.63,665.6 330.43,667.1 328.94,667.1C327.45,667.1 326.24,665.6 326.24,663.75C326.24,661.9 327.45,660.4 328.94,660.4C330.43,660.4 331.63,661.9 331.63,663.75M331.63,657.59L331.63,667.1M335.42,663.75L340.94,663.75C340.94,662.18 340,660.82 338.68,660.48C337.36,660.22 336.01,660.91 335.43,662.33C334.86,663.76 335.22,665.45 336.29,666.41C337.37,667.36 338.87,667.33 339.91,666.32M344.47,660.4L344.47,667.1M344.47,658.29L344.48,658.29M353.39,663.75C353.39,665.6 352.19,667.1 350.7,667.1C349.21,667.1 348,665.6 348,663.75C348,661.9 349.21,660.4 350.7,660.4C352.19,660.4 353.39,661.9 353.39,663.75M353.39,657.59L353.39,667.1M357.18,663.75L362.7,663.75C362.7,662.18 361.76,660.82 360.44,660.48C359.11,660.22 357.77,660.91 357.19,662.33C356.62,663.76 356.98,665.45 358.05,666.41C359.13,667.36 360.63,667.33 361.67,666.32" stroke="#c48bf3" stroke-width="1.8"/>
<path d="M408.64,634.5L413.77,634.5C413.77,633.61 412.9,632.84 411.67,632.65C410.44,632.42 409.18,632.89 408.65,633.7C408.12,634.5 408.45,635.47 409.45,636.01C410.45,636.55 411.85,636.53 412.81,635.96M417.06,632.6L417.06,636.4M417.06,634.31Q417.36,632.6 419.44,632.6Q421.83,632.6 421.83,634.31L421.83,636.4M425.12,632.6L425.12,636.4M425.12,630.55L425.12,630.55M428.4,629.86L428.4,636.4" stroke="#151515" stroke-width="1.8"/>
<path d="M406.3,622.8 Q403.5,620 401.8,624.5 Q401,628.5 402.5,631 L403.2,638.5 Q402.5,643 399,641.8 Q395.5,639.5 398.5,637.5 Q402,635.5 407.5,634.8" stroke="#151515" stroke-width="2.1"/>
<path d="M435.89,633.43C435.19,632.64 434.06,632.39 433.04,632.7C432.03,633.05 431.35,633.97 431.35,635C431.35,636.03 432.03,636.95 433.04,637.3C434.06,637.65 435.19,637.36 435.89,636.57M439.06,630.2L439.06,637.45M439.06,634.75Q439.35,632.55 441.34,632.55Q443.63,632.55 443.63,634.75L443.63,637.45M447,635L451.91,635C451.91,633.85 451.07,632.86 449.9,632.61C448.72,632.4 447.52,632.92 447.01,633.96C446.5,635.01 446.82,636.24 447.78,636.94C448.73,637.64 450.07,637.62 450.99,636.88M456.48,630.79L456.48,635.98Q456.48,637.45 458.48,637.45M455.05,632.79L458.48,632.79M466.76,635C466.76,636.35 465.61,637.45 464.19,637.45C462.77,637.45 461.62,636.35 461.62,635C461.62,633.65 462.77,632.55 464.19,632.55C465.61,632.55 466.76,633.65 466.76,635M469.9,632.55L469.9,637.45M469.9,634.75Q470.19,632.55 472.18,632.55Q474.47,632.55 474.47,634.75L474.47,637.45M477.84,635L482.75,635C482.75,633.85 481.91,632.86 480.74,632.61C479.56,632.4 478.36,632.92 477.85,633.96C477.34,635.01 477.66,636.24 478.62,636.94C479.57,637.64 480.91,637.62 481.83,636.88" stroke="#c48bf3" stroke-width="1.7"/>
<path d="M15.3,716.62L15.3,726.7L19.69,726.7M23.43,723.1L28.9,723.1C28.9,721.41 27.97,719.95 26.66,719.59C25.35,719.28 24.02,720.05 23.45,721.58C22.88,723.11 23.24,724.93 24.3,725.96C25.36,726.98 26.85,726.94 27.88,725.86M46.23,723.1C46.23,725.09 44.81,726.7 43.06,726.7C41.32,726.7 39.9,725.09 39.9,723.1C39.9,721.11 41.32,719.5 43.06,719.5C44.81,719.5 46.22,721.11 46.23,723.1M46.23,719.5L46.23,726.7M50.37,716.04L50.37,726.7M60.83,723.1C60.83,725.09 59.42,726.7 57.67,726.7C55.92,726.7 54.51,725.09 54.51,723.1C54.51,721.11 55.92,719.5 57.67,719.5C59.42,719.5 60.83,721.11 60.83,723.1M60.83,716.04L60.83,726.7M65.28,723.1L71.75,723.1C71.75,721.41 70.65,719.95 69.1,719.59C67.54,719.28 65.96,720.05 65.29,721.58C64.62,723.11 65.04,724.93 66.3,725.96C67.56,726.98 69.32,726.94 70.54,725.86M75.89,719.5L75.89,726.7M75.89,716.91L75.9,716.91M86.36,723.1C86.36,725.09 84.94,726.7 83.2,726.7C81.45,726.7 80.03,725.09 80.03,723.1C80.03,721.11 81.45,719.5 83.2,719.5C84.94,719.5 86.36,721.11 86.36,723.1M86.36,716.04L86.36,726.7M90.5,719.5L90.5,726.7M90.5,716.91L90.51,716.91M112.08,723.1L118.1,723.1C118.1,721.41 117.07,719.95 115.63,719.59C114.19,719.28 112.72,720.05 112.1,721.58C111.47,723.11 111.86,724.93 113.03,725.96C114.2,726.98 115.84,726.94 116.97,725.86M130.3,719.5L130.3,726.7M130.3,716.91L130.3,716.91M159.42,720.79C158.56,719.63 157.15,719.26 155.89,719.72C154.64,720.23 153.8,721.59 153.8,723.1C153.8,724.61 154.64,725.97 155.89,726.48C157.15,727 158.56,726.57 159.42,725.41M163.35,716.04L163.35,726.7M163.35,722.74Q163.7,719.5 166.18,719.5Q169.01,719.5 169.01,722.74L169.01,726.7M173.18,723.1L179.27,723.1C179.27,721.41 178.23,719.95 176.77,719.59C175.32,719.28 173.83,720.05 173.2,721.58C172.57,723.11 172.96,724.93 174.15,725.96C175.33,726.98 176.99,726.94 178.13,725.86M184.93,716.91L184.93,724.54Q184.93,726.7 187.4,726.7M183.16,719.86L187.4,719.86M197.66,723.1C197.66,725.09 196.23,726.7 194.48,726.7C192.72,726.7 191.29,725.09 191.29,723.1C191.29,721.11 192.72,719.5 194.48,719.5C196.23,719.5 197.66,721.11 197.66,723.1M201.55,719.5L201.55,726.7M201.55,722.74Q201.9,719.5 204.38,719.5Q207.21,719.5 207.21,722.74L207.21,726.7M211.1,719.5L211.1,726.7M211.1,716.91L211.11,716.91M236.3,719.5L238.97,726.7L241.63,719.5M245.57,723.1L251.3,723.1C251.3,721.41 250.32,719.95 248.95,719.59C247.58,719.28 246.18,720.05 245.58,721.58C244.99,723.11 245.36,724.93 246.47,725.96C247.59,726.98 249.15,726.94 250.23,725.86M254.97,719.5L254.97,726.7M254.97,722.74Q255.3,719.5 257.63,719.5Q260.3,719.5 260.3,722.74L260.3,726.7M269.57,723.1C269.57,725.09 268.31,726.7 266.77,726.7C265.22,726.7 263.97,725.09 263.97,723.1C263.97,721.11 265.22,719.5 266.77,719.5C268.31,719.5 269.57,721.11 269.57,723.1M269.57,719.5L269.57,728.86Q269.57,731.02 266.97,731.02Q264.77,731.02 264.3,729.22M279.23,723.1C279.23,725.09 277.89,726.7 276.23,726.7C274.58,726.7 273.23,725.09 273.23,723.1C273.23,721.11 274.58,719.5 276.23,719.5C277.89,719.5 279.23,721.11 279.23,723.1M282.9,719.5L282.9,726.7M282.9,722.74Q283.23,719.5 285.57,719.5Q288.23,719.5 288.23,722.74L288.23,726.7M297.9,723.1C297.9,725.09 296.56,726.7 294.9,726.7C293.24,726.7 291.9,725.09 291.9,723.1C291.9,721.11 293.24,719.5 294.9,719.5C296.56,719.5 297.9,721.11 297.9,723.1M328.95,723.1C328.95,725.09 327.68,726.7 326.12,726.7C324.56,726.7 323.3,725.09 323.3,723.1C323.3,721.11 324.56,719.5 326.12,719.5C327.68,719.5 328.95,721.11 328.95,723.1M333.97,716.91L333.97,724.54Q333.97,726.7 336.17,726.7M332.4,719.86L336.17,719.86M341.19,716.91L341.19,724.54Q341.19,726.7 343.38,726.7M339.62,719.86L343.38,719.86M347.09,723.1L352.48,723.1C352.48,721.41 351.56,719.95 350.27,719.59C348.98,719.28 347.66,720.05 347.1,721.58C346.54,723.11 346.89,724.93 347.94,725.96C348.99,726.98 350.46,726.94 351.48,725.86M355.94,719.5L355.94,726.7M355.94,722.74Q356.25,719.5 358.45,719.5Q360.96,719.5 360.96,722.74L360.96,726.7M364.41,719.5L364.41,723.46Q364.41,726.7 366.92,726.7Q369.43,726.7 369.43,723.46M369.43,719.5L369.43,726.7M374.45,716.91L374.45,724.54Q374.45,726.7 376.65,726.7M372.88,719.86L376.65,719.86M380.1,719.5L380.1,726.7M380.1,716.91L380.11,716.91M413.32,723.1C413.32,725.09 411.68,726.7 409.66,726.7C407.64,726.7 406,725.09 406,723.1C406,721.11 407.64,719.5 409.66,719.5C411.68,719.5 413.32,721.11 413.32,723.1M413.32,716.04L413.32,726.7M425.43,723.1C425.43,725.09 423.79,726.7 421.77,726.7C419.75,726.7 418.11,725.09 418.11,723.1C418.11,721.11 419.75,719.5 421.77,719.5C423.79,719.5 425.43,721.11 425.43,723.1M425.43,719.5L425.43,726.7M430.22,716.04L430.22,726.7M435.01,716.04L435.01,726.7M439.8,716.04L439.8,718.64M455.58,723.1C455.58,725.09 454.31,726.7 452.74,726.7C451.17,726.7 449.9,725.09 449.9,723.1C449.9,721.11 451.17,719.5 452.74,719.5C454.31,719.5 455.58,721.11 455.58,723.1M463.46,720.58Q462.83,719.5 461.32,719.5Q459.17,719.5 459.3,721.37Q459.55,722.96 461.45,723.1Q463.59,723.39 463.46,725.12Q463.21,726.7 461.19,726.7Q459.55,726.7 459.05,725.55M471.48,720.58Q470.85,719.5 469.33,719.5Q467.19,719.5 467.31,721.37Q467.57,722.96 469.46,723.1Q471.6,723.39 471.48,725.12Q471.23,726.7 469.21,726.7Q467.57,726.7 467.06,725.55M475.07,719.5L475.07,726.7M475.07,716.91L475.08,716.91M483.84,723.1C483.84,725.09 482.66,726.7 481.19,726.7C479.73,726.7 478.54,725.09 478.54,723.1C478.54,721.11 479.73,719.5 481.19,719.5C482.66,719.5 483.84,721.11 483.84,723.1M483.84,716.04L483.84,726.7M492.61,723.1C492.61,725.09 491.43,726.7 489.96,726.7C488.5,726.7 487.31,725.09 487.31,723.1C487.31,721.11 488.5,719.5 489.96,719.5C491.43,719.5 492.61,721.11 492.61,723.1M492.61,719.5L492.61,726.7M496.08,719.5L500.82,719.5L496.08,726.7L500.82,726.7M504.29,719.5L504.29,726.7M504.29,716.91L504.29,716.91M513.43,723.1C513.43,725.09 512.16,726.7 510.59,726.7C509.03,726.7 507.76,725.09 507.76,723.1C507.76,721.11 509.03,719.5 510.59,719.5C512.16,719.5 513.43,721.11 513.43,723.1M516.9,719.5L516.9,726.7M516.9,722.74Q517.22,719.5 519.43,719.5Q521.95,719.5 521.95,722.74L521.95,726.7M525.67,723.1L531.1,723.1C531.1,721.41 530.18,719.95 528.88,719.59C527.58,719.28 526.25,720.05 525.69,721.58C525.13,723.11 525.48,724.93 526.53,725.96C527.59,726.98 529.07,726.94 530.09,725.86M557.12,723.1C557.12,725.09 555.86,726.7 554.31,726.7C552.76,726.7 551.5,725.09 551.5,723.1C551.5,721.11 552.76,719.5 554.31,719.5C555.86,719.5 557.12,721.11 557.12,723.1M557.12,716.04L557.12,726.7M561.07,723.1L566.83,723.1C566.83,721.41 565.85,719.95 564.47,719.59C563.09,719.28 561.68,720.05 561.09,721.58C560.49,723.11 560.86,724.93 561.98,725.96C563.1,726.98 564.67,726.94 565.75,725.86M576.14,723.1C576.14,725.09 574.88,726.7 573.32,726.7C571.77,726.7 570.51,725.09 570.51,723.1C570.51,721.11 571.77,719.5 573.32,719.5C574.88,719.5 576.14,721.11 576.14,723.1M576.14,719.5L576.14,728.86Q576.14,731.02 573.53,731.02Q571.32,731.02 570.85,729.22M579.82,716.04L579.82,726.7M583.5,719.5L583.5,726.7M583.5,716.91L583.51,716.91M607.27,723.1C607.27,725.09 606.13,726.7 604.73,726.7C603.33,726.7 602.2,725.09 602.2,723.1C602.2,721.11 603.33,719.5 604.73,719.5C606.13,719.5 607.27,721.11 607.27,723.1M607.27,719.5L607.27,726.7M610.58,716.04L610.58,726.7M618.69,720.79C617.96,719.63 616.76,719.26 615.68,719.72C614.61,720.23 613.9,721.59 613.9,723.1C613.9,724.61 614.61,725.97 615.68,726.48C616.76,727 617.96,726.57 618.69,725.41M627.47,723.1C627.47,725.09 626.25,726.7 624.75,726.7C623.25,726.7 622.04,725.09 622.04,723.1C622.04,721.11 623.25,719.5 624.75,719.5C626.25,719.5 627.47,721.11 627.47,723.1M630.78,716.04L630.78,726.7M634.1,719.5L634.1,726.7M634.1,716.91L634.11,716.91M647.9,721.66L647.9,721.66M647.9,726.7L647.9,726.7" stroke="#151515" stroke-width="1.8"/>
<path d="M23.36,751.59C22.53,750.57 21.15,750.25 19.98,750.81C18.81,751.38 18.15,752.69 18.38,754.01C18.6,755.34 19.65,756.34 20.93,756.45C22.22,756.57 23.41,755.78 23.85,754.51M21.36,753.8L23.78,753.8L23.78,756.47M26.51,750.54L26.51,756.47L30.14,756.47M32.87,750.54L32.87,756.47M40.93,756.47L43.41,750.54L45.89,756.47M41.86,754.21L44.96,754.21M48.67,750.54L48.67,756.47L52.38,756.47M60.3,751.59C59.52,750.64 58.23,750.29 57.08,750.71C55.93,751.14 55.17,752.25 55.17,753.5C55.17,754.75 55.93,755.86 57.08,756.29C58.23,756.71 59.52,756.36 60.3,755.41M68.78,753.5C68.78,755.14 67.54,756.47 66,756.47C64.46,756.47 63.21,755.14 63.21,753.5C63.21,751.86 64.46,750.54 66,750.54C67.54,750.54 68.78,751.86 68.78,753.5M71.57,750.54L71.57,756.47L75.28,756.47M78.06,750.54L78.06,756.47M88.73,750.54L95.37,750.54M92.05,750.54L92.05,756.47M88.73,756.47L95.37,756.47" stroke="#151515" stroke-width="2.07"/>
<path d="M22.27,780.09C21.41,779.07 19.96,778.75 18.75,779.31C17.53,779.88 16.85,781.19 17.08,782.51C17.31,783.84 18.4,784.84 19.74,784.95C21.08,785.07 22.32,784.28 22.78,783.01M20.19,782.3L22.71,782.3L22.71,784.97M25.55,779.04L25.55,784.97L29.33,784.97M32.17,779.04L32.17,784.97M44.93,784.97L47.14,779.04L49.35,784.97M45.76,782.71L48.52,782.71M51.84,779.04L51.84,784.97L55.15,784.97M62.22,780.09C61.52,779.14 60.37,778.79 59.34,779.21C58.32,779.64 57.63,780.75 57.63,782C57.63,783.25 58.32,784.36 59.34,784.79C60.37,785.21 61.52,784.86 62.22,783.91M69.78,782C69.78,783.64 68.67,784.97 67.3,784.97C65.93,784.97 64.81,783.64 64.81,782C64.81,780.36 65.93,779.04 67.3,779.04C68.67,779.04 69.78,780.36 69.78,782M72.27,779.04L72.27,784.97L75.58,784.97M78.06,779.04L78.06,784.97M91.44,779.04L101.97,779.04M94.59,779.04L94.59,784.97M98.81,779.04L98.81,784.97M91.44,784.97L101.97,784.97" stroke="#151515" stroke-width="2.07"/>
<path d="M148.32,754.75C148.32,756.58 146.85,758.05 145.03,758.05C143.22,758.05 141.75,756.58 141.75,754.75C141.75,752.92 143.22,751.44 145.03,751.44C146.85,751.44 148.32,752.92 148.32,754.75M148.32,751.44L148.32,758.05M152.63,748.67L152.63,758.05M163.51,754.75C163.51,756.58 162.04,758.05 160.22,758.05C158.41,758.05 156.93,756.58 156.93,754.75C156.93,752.92 158.41,751.44 160.22,751.44C162.04,751.44 163.51,752.92 163.51,754.75M163.51,748.67L163.51,758.05M168.13,754.75L174.86,754.75C174.86,753.2 173.71,751.86 172.1,751.52C170.49,751.27 168.84,751.95 168.15,753.35C167.45,754.76 167.88,756.43 169.19,757.37C170.5,758.32 172.34,758.28 173.6,757.28M179.17,751.44L179.17,758.05M179.17,749.36L179.17,749.36M190.05,754.75C190.05,756.58 188.58,758.05 186.76,758.05C184.95,758.05 183.47,756.58 183.47,754.75C183.47,752.92 184.95,751.44 186.76,751.44C188.58,751.44 190.05,752.92 190.05,754.75M190.05,748.67L190.05,758.05M194.36,751.44L194.36,758.05M194.36,749.36L194.36,749.36" stroke="#151515" stroke-width="1.89"/>
<path d="M158.26,779.55C157.36,778.52 155.87,778.14 154.55,778.6C153.23,779.06 152.34,780.27 152.34,782.07C152.34,784 153.23,785.72 154.55,786.38C155.87,787.04 157.36,786.49 158.26,785.02M161.81,777.98L161.81,786.65M161.81,783.29Q162.12,780.54 164.29,780.54Q166.77,780.54 166.77,783.29L166.77,786.65M170.43,783.6L175.76,783.6C175.76,782.17 174.85,780.93 173.58,780.62C172.3,780.38 171,781.01 170.44,782.31C169.89,783.61 170.24,785.15 171.27,786.02C172.31,786.9 173.76,786.86 174.76,785.94M180.72,778.62L180.72,784.82Q180.72,786.65 182.89,786.65M179.17,780.85L182.89,780.85M191.88,783.6C191.88,785.29 190.63,786.65 189.09,786.65C187.55,786.65 186.3,785.29 186.3,783.6C186.3,781.91 187.55,780.54 189.09,780.54C190.63,780.54 191.88,781.91 191.88,783.6M195.29,780.54L195.29,786.65M195.29,783.29Q195.6,780.54 197.77,780.54Q200.25,780.54 200.25,783.29L200.25,786.65M203.66,780.54L203.66,786.65M203.66,778.62L203.66,778.62" stroke="#151515" stroke-width="1.89"/>
<path d="M157.33,835.84C156.04,833.91 153.93,833.45 152.04,834.06C150.16,834.92 148.9,837.18 148.9,839.7C148.9,842.22 150.16,844.48 152.04,845.34C153.93,846.2 156.04,845.49 157.33,843.56M172.13,839.7C172.13,843.01 170.14,845.7 167.68,845.7C165.22,845.7 163.22,843.01 163.22,839.7C163.22,836.39 165.22,833.7 167.68,833.7C170.14,833.7 172.13,836.39 172.13,839.7M172.13,833.7L172.13,845.7M177.97,833.7L177.97,845.7M177.97,839.7Q179.03,833.7 184.34,834.3M190.17,830.1L190.17,845.7M199.08,839.7C199.08,843.01 197.09,845.7 194.63,845.7C192.17,845.7 190.17,843.01 190.17,839.7C190.17,836.39 192.17,833.7 194.63,833.7C197.09,833.7 199.08,836.39 199.08,839.7M214.47,839.7C214.47,843.01 212.33,845.7 209.69,845.7C207.05,845.7 204.92,843.01 204.92,839.7C204.92,836.39 207.05,833.7 209.69,833.7C212.33,833.7 214.47,836.39 214.47,839.7M220.3,833.7L220.3,845.7M220.3,839.1Q220.83,833.7 224.54,833.7Q228.79,833.7 228.79,839.1L228.79,845.7M234.62,838.26L234.62,845.7M234.62,833.7L234.63,833.7M240.46,830.1L240.46,845.7M246.29,838.26L246.29,845.7M246.29,833.7L246.3,833.7M260.56,835.84C259.27,833.91 257.16,833.45 255.27,834.06C253.38,834.92 252.13,837.18 252.13,839.7C252.13,842.22 253.38,844.48 255.27,845.34C257.16,846.2 259.27,845.49 260.56,843.56M276,839.7C276,843.01 273.86,845.7 271.23,845.7C268.59,845.7 266.45,843.01 266.45,839.7C266.45,836.39 268.59,833.7 271.23,833.7C273.86,833.7 276,836.39 276,839.7" stroke="#bf7cf2" stroke-width="3.4"/>
<path d="M16.2,833.7L16.2,845.7M16.2,829.11L16.2,829.11" stroke="#bf7cf2" stroke-width="3.4"/>
<path d="M31,845.5 Q24.5,848.5 22.8,840 Q22,828 27.5,825.2 Q31.5,824 30.8,830 Q29.5,835 23,838.5" stroke="#bf7cf2" stroke-width="3.4"/>
<path d="M53.5,839.7C53.5,843.01 51.64,845.7 49.35,845.7C47.06,845.7 45.2,843.01 45.2,839.7C45.2,836.39 47.06,833.7 49.35,833.7C51.64,833.7 53.5,836.39 53.5,839.7M53.5,833.7L53.5,850.74Q53.5,855.78 49.65,855.78Q46.39,855.78 45.69,851.58M58.93,833.7L58.93,845.7M58.93,839.7Q59.92,833.7 64.86,834.3M70.3,833.7L70.3,840.3Q70.3,845.7 74.25,845.7Q78.2,845.7 78.2,840.3M78.2,833.7L78.2,845.7M83.64,833.7L83.64,855.78M91.94,839.7C91.94,843.01 90.08,845.7 87.79,845.7C85.5,845.7 83.64,843.01 83.64,839.7C83.64,836.39 85.5,833.7 87.79,833.7C90.08,833.7 91.94,836.39 91.94,839.7M97.37,833.7L97.37,855.78M105.67,839.7C105.67,843.01 103.81,845.7 101.52,845.7C99.23,845.7 97.37,843.01 97.37,839.7C97.37,836.39 99.23,833.7 101.52,833.7C103.81,833.7 105.67,836.39 105.67,839.7M120,839.7C120,843.01 118.01,845.7 115.55,845.7C113.1,845.7 111.11,843.01 111.11,839.7C111.11,836.39 113.1,833.7 115.55,833.7C118.01,833.7 120,836.39 120,839.7" stroke="#bf7cf2" stroke-width="3.4"/>
<path d="M15.3,899.7L15.3,905.1M15.3,897.03L15.31,897.03M22.8,896.14L22.8,905.1M40.6,896.14L40.6,905.1M44.04,902.4L49.04,902.4C49.04,901.13 48.19,900.04 46.99,899.76C45.79,899.47 44.57,900.11 44.05,901.26C43.53,902.41 43.85,903.77 44.83,904.54C45.8,905.42 47.17,905.37 48.11,904.47M57.14,902.4C57.14,903.89 56.04,905.1 54.69,905.1C53.34,905.1 52.25,903.89 52.25,902.4C52.25,900.91 53.34,899.7 54.69,899.7C56.04,899.7 57.14,900.91 57.14,902.4M57.14,899.7L57.14,907.53Q57.14,909.96 54.87,909.96Q52.95,909.96 52.54,907.94M65.23,902.4C65.23,903.89 64.14,905.1 62.79,905.1C61.44,905.1 60.34,903.89 60.34,902.4C60.34,900.91 61.44,899.7 62.79,899.7C64.14,899.7 65.23,900.91 65.23,902.4M65.23,899.7L65.23,905.1M68.44,899.7L68.44,902.94Q68.44,905.1 70.24,905.1Q72.05,905.1 72.05,902.94L72.05,900.24M72.05,902.94Q72.05,905.1 73.85,905.1Q75.66,905.1 75.66,902.94L75.66,899.7M79.09,902.4L84.1,902.4C84.1,901.13 83.25,900.04 82.05,899.76C80.85,899.47 79.62,900.11 79.1,901.26C78.59,902.41 78.91,903.77 79.88,904.54C80.86,905.42 82.22,905.37 83.16,904.47M102.58,900.66C101.86,899.79 100.69,899.45 99.64,899.86C98.6,900.25 97.9,901.26 97.9,902.4C97.9,903.54 98.6,904.55 99.64,904.94C100.69,905.44 101.86,905.01 102.58,904.14M105.85,901.32L109.97,901.32M105.85,903.48L109.97,903.48M118.5,902.4C118.5,903.89 117.31,905.1 115.85,905.1C114.39,905.1 113.2,903.89 113.2,902.4C113.2,900.91 114.39,899.7 115.85,899.7C117.31,899.7 118.5,900.91 118.5,902.4M139.34,902.4L144.5,902.4C144.5,901.13 143.62,900.04 142.38,899.76C141.15,899.47 139.89,900.11 139.35,901.26C138.82,902.41 139.15,903.77 140.16,904.54C141.16,905.42 142.57,905.37 143.54,904.47M140.6,897.62L143,897.62M162.39,900.66C161.73,899.79 160.66,899.45 159.7,899.86C158.74,900.25 158.1,901.26 158.1,902.4C158.1,903.54 158.74,904.55 159.7,904.94C160.66,905.44 161.73,905.01 162.39,904.14M170.24,902.4C170.24,903.89 169.15,905.1 167.81,905.1C166.47,905.1 165.38,903.89 165.38,902.4C165.38,900.91 166.47,899.7 167.81,899.7C169.15,899.7 170.24,900.91 170.24,902.4M173.21,899.7L173.21,902.94Q173.21,905.1 174.88,905.1Q176.55,905.1 176.55,902.94L176.55,900.24M176.55,902.94Q176.55,905.1 178.22,905.1Q179.9,905.1 179.9,902.94L179.9,899.7M182.86,899.7L182.86,909.96M187.4,902.4C187.4,903.89 186.38,905.1 185.13,905.1C183.88,905.1 182.86,903.89 182.86,902.4C182.86,900.91 183.88,899.7 185.13,899.7C186.38,899.7 187.4,900.91 187.4,902.4M195.22,902.4C195.22,903.89 194.13,905.1 192.79,905.1C191.45,905.1 190.36,903.89 190.36,902.4C190.36,900.91 191.45,899.7 192.79,899.7C194.13,899.7 195.22,900.91 195.22,902.4M201.96,900.51Q201.42,899.7 200.13,899.7Q198.3,899.7 198.4,901.1Q198.62,902.29 200.24,902.4Q202.07,902.62 201.96,903.91Q201.75,905.1 200.02,905.1Q198.62,905.1 198.19,904.24M206.39,897.03L206.39,903.48Q206.39,905.1 208.28,905.1M205.04,899.97L208.28,899.97M216.1,902.4C216.1,903.89 215.01,905.1 213.67,905.1C212.33,905.1 211.24,903.89 211.24,902.4C211.24,900.91 212.33,899.7 213.67,899.7C215.01,899.7 216.1,900.91 216.1,902.4M240.04,902.4C240.04,903.89 239.12,905.1 237.97,905.1C236.83,905.1 235.9,903.89 235.9,902.4C235.9,900.91 236.83,899.7 237.97,899.7C239.12,899.7 240.04,900.91 240.04,902.4M240.04,896.14L240.04,905.1M246.9,902.4C246.9,903.89 245.97,905.1 244.83,905.1C243.68,905.1 242.76,903.89 242.76,902.4C242.76,900.91 243.68,899.7 244.83,899.7C245.97,899.7 246.9,900.91 246.9,902.4M246.9,899.7L246.9,905.1M257.7,901.32Q258.97,905.1 260.87,905.1Q262.45,905.1 263.51,900.78Q264.56,905.1 267.2,905.1Q268.78,905.1 269.84,900.78Q270.89,905.1 273.53,905.1Q275.64,905.1 276.7,901.32M289.9,896.14L289.9,905.1M293.84,902.4L299.59,902.4C299.59,901.13 298.61,900.04 297.23,899.76C295.85,899.47 294.45,900.11 293.86,901.26C293.26,902.41 293.63,903.77 294.75,904.54C295.87,905.42 297.43,905.37 298.51,904.47M308.87,902.4C308.87,903.89 307.62,905.1 306.07,905.1C304.52,905.1 303.26,903.89 303.26,902.4C303.26,900.91 304.52,899.7 306.07,899.7C307.62,899.7 308.87,900.91 308.87,902.4M308.87,899.7L308.87,907.53Q308.87,909.96 306.27,909.96Q304.06,909.96 303.59,907.94M318.16,902.4C318.16,903.89 316.9,905.1 315.35,905.1C313.8,905.1 312.55,903.89 312.55,902.4C312.55,900.91 313.8,899.7 315.35,899.7C316.9,899.7 318.16,900.91 318.16,902.4M318.16,899.7L318.16,905.1M321.83,899.7L321.83,902.94Q321.83,905.1 323.9,905.1Q325.97,905.1 325.97,902.94L325.97,900.24M325.97,902.94Q325.97,905.1 328.04,905.1Q330.11,905.1 330.11,902.94L330.11,899.7M334.06,902.4L339.8,902.4C339.8,901.13 338.82,900.04 337.44,899.76C336.07,899.47 334.67,900.11 334.07,901.26C333.47,902.41 333.85,903.77 334.96,904.54C336.08,905.42 337.65,905.37 338.73,904.47M358.41,902.4C358.41,903.89 356.86,905.1 354.95,905.1C353.05,905.1 351.5,903.89 351.5,902.4C351.5,900.91 353.05,899.7 354.95,899.7C356.86,899.7 358.41,900.91 358.41,902.4M354.95,899.7L359.7,899.7M375.38,902.4L381.4,902.4C381.4,901.13 380.37,900.04 378.93,899.76C377.49,899.47 376.02,900.11 375.4,901.26C374.77,902.41 375.16,903.77 376.33,904.54C377.5,905.42 379.14,905.37 380.27,904.47M391.4,901.32Q392.91,905.1 395.18,905.1Q397.07,905.1 398.34,900.78Q399.6,905.1 402.75,905.1Q404.64,905.1 405.9,900.78Q407.16,905.1 410.32,905.1Q412.84,905.1 414.1,901.32M421.8,899.7L429.9,899.7M424.05,899.7L423.6,905.1M427.65,899.7L428.1,905.1M442.6,904.83L441.7,907.53M456.2,896.14L456.2,905.1M459.85,896.14L459.85,898.81M469.07,902.4C469.07,903.89 467.82,905.1 466.28,905.1C464.74,905.1 463.5,903.89 463.5,902.4C463.5,900.91 464.74,899.7 466.28,899.7C467.82,899.7 469.07,900.91 469.07,902.4M469.07,899.7L469.07,905.1M474.37,897.03L474.37,903.48Q474.37,905.1 476.69,905.1M472.71,899.97L476.69,899.97M486.31,902.4C486.31,903.89 484.97,905.1 483.33,905.1C481.68,905.1 480.34,903.89 480.34,902.4C480.34,900.91 481.68,899.7 483.33,899.7C484.97,899.7 486.31,900.91 486.31,902.4M489.96,899.7L489.96,902.94Q489.96,905.1 492.01,905.1Q494.07,905.1 494.07,902.94L494.07,900.24M494.07,902.94Q494.07,905.1 496.13,905.1Q498.18,905.1 498.18,902.94L498.18,899.7M507.8,902.4C507.8,903.89 506.46,905.1 504.82,905.1C503.17,905.1 501.83,903.89 501.83,902.4C501.83,900.91 503.17,899.7 504.82,899.7C506.46,899.7 507.8,900.91 507.8,902.4M530.14,902.4C530.14,903.89 528.79,905.1 527.12,905.1C525.45,905.1 524.1,903.89 524.1,902.4C524.1,900.91 525.45,899.7 527.12,899.7C528.79,899.7 530.14,900.91 530.14,902.4M530.14,896.14L530.14,905.1M534.1,899.7L534.1,905.1M534.1,897.03L534.11,897.03M551.28,900.66C550.65,899.79 549.63,899.45 548.72,899.86C547.81,900.25 547.2,901.26 547.2,902.4C547.2,903.54 547.81,904.55 548.72,904.94C549.63,905.44 550.65,905.01 551.28,904.14M558.44,902.4C558.44,903.89 557.47,905.1 556.28,905.1C555.09,905.1 554.13,903.89 554.13,902.4C554.13,900.91 555.09,899.7 556.28,899.7C557.47,899.7 558.44,900.91 558.44,902.4M558.44,899.7L558.44,905.1M561.26,899.7L561.26,905.1M561.26,902.4Q561.77,899.7 564.34,899.97M567.16,896.14L567.16,905.1M571.47,902.4C571.47,903.89 570.51,905.1 569.32,905.1C568.13,905.1 567.16,903.89 567.16,902.4C567.16,900.91 568.13,899.7 569.32,899.7C570.51,899.7 571.47,900.91 571.47,902.4M578.91,902.4C578.91,903.89 577.88,905.1 576.6,905.1C575.33,905.1 574.29,903.89 574.29,902.4C574.29,900.91 575.33,899.7 576.6,899.7C577.88,899.7 578.91,900.91 578.91,902.4M581.73,899.7L581.73,905.1M581.73,902.13Q581.99,899.7 583.79,899.7Q585.84,899.7 585.84,902.13L585.84,905.1M588.66,899.7L588.66,905.1M588.66,897.03L588.66,897.03M596.1,902.4C596.1,903.89 595.07,905.1 593.79,905.1C592.52,905.1 591.48,903.89 591.48,902.4C591.48,900.91 592.52,899.7 593.79,899.7C595.07,899.7 596.1,900.91 596.1,902.4M611.88,902.4L617.9,902.4C617.9,901.13 616.87,900.04 615.43,899.76C613.99,899.47 612.52,900.11 611.9,901.26C611.27,902.41 611.66,903.77 612.83,904.54C614,905.42 615.64,905.37 616.77,904.47M613.35,897.62L616.15,897.62M631.5,899.7L631.5,905.1M631.5,897.03L631.51,897.03M635.08,896.14L635.08,905.1M640.56,902.4C640.56,903.89 639.33,905.1 637.82,905.1C636.31,905.1 635.08,903.89 635.08,902.4C635.08,900.91 636.31,899.7 637.82,899.7C639.33,899.7 640.56,900.91 640.56,902.4M644.14,899.7L644.14,905.1M644.14,902.4Q644.79,899.7 648.05,899.97M651.64,899.7L651.64,905.1M651.64,897.03L651.64,897.03M660.7,902.4C660.7,903.89 659.47,905.1 657.96,905.1C656.45,905.1 655.22,903.89 655.22,902.4C655.22,900.91 656.45,899.7 657.96,899.7C659.47,899.7 660.7,900.91 660.7,902.4M660.7,896.14L660.7,905.1M669.76,902.4C669.76,903.89 668.53,905.1 667.02,905.1C665.51,905.1 664.28,903.89 664.28,902.4C664.28,900.91 665.51,899.7 667.02,899.7C668.53,899.7 669.76,900.91 669.76,902.4M669.76,899.7L669.76,905.1M674.97,897.03L674.97,903.48Q674.97,905.1 677.25,905.1M673.34,899.97L677.25,899.97M686.7,902.4C686.7,903.89 685.39,905.1 683.77,905.1C682.15,905.1 680.83,903.89 680.83,902.4C680.83,900.91 682.15,899.7 683.77,899.7C685.39,899.7 686.7,900.91 686.7,902.4M719.89,898.07Q719.08,896.73 717.13,896.73Q714.36,896.73 714.53,899.05Q714.85,900.89 717.29,901.05Q720.05,901.37 719.89,903.32Q719.57,905.1 716.96,905.1Q714.85,905.1 714.2,903.8M723.94,899.7L723.94,909.96M729.88,902.4C729.88,903.89 728.55,905.1 726.91,905.1C725.27,905.1 723.94,903.89 723.94,902.4C723.94,900.91 725.27,899.7 726.91,899.7C728.55,899.7 729.88,900.91 729.88,902.4M733.77,897.03Q734.62,895.54 735.89,896.14Q736.95,897.03 733.77,899.4L736.6,899.4M766.12,902.4L770.8,902.4C770.8,901.13 770,900.04 768.88,899.76C767.76,899.47 766.62,900.11 766.13,901.26C765.64,902.41 765.95,903.77 766.86,904.54C767.77,905.42 769.04,905.37 769.92,904.47M790.23,897.62Q789.36,896.14 788.09,896.43Q787.05,896.73 787.05,899.11L787.05,905.1M785.9,900.24L789.36,900.24M798.31,902.4C798.31,903.89 797.15,905.1 795.71,905.1C794.28,905.1 793.11,903.89 793.11,902.4C793.11,900.91 794.28,899.7 795.71,899.7C797.15,899.7 798.31,900.91 798.31,902.4M801.48,899.7L801.48,905.1M801.48,902.4Q802.06,899.7 804.95,899.97M808.12,899.7L808.12,905.1M808.12,901.86Q808.41,899.7 809.91,899.7Q811.7,899.7 811.7,901.86L811.7,905.1M811.7,901.86Q811.99,899.7 813.49,899.7Q815.28,899.7 815.28,901.86L815.28,905.1M823.3,902.4C823.3,903.89 822.21,905.1 820.88,905.1C819.54,905.1 818.45,903.89 818.45,902.4C818.45,900.91 819.54,899.7 820.88,899.7C822.21,899.7 823.3,900.91 823.3,902.4M823.3,899.7L823.3,905.1" stroke="#151515" stroke-width="1.8"/>
<path d="M21.85,931.8C21.85,933.51 20.41,934.9 18.63,934.9C16.84,934.9 15.4,933.51 15.4,931.8C15.4,930.09 16.84,928.7 18.63,928.7C20.41,928.7 21.85,930.09 21.85,931.8M21.85,928.7L21.85,934.9M26.08,928.7L26.08,934.9M26.08,931.49Q26.46,928.7 29.15,928.7Q32.23,928.7 32.23,931.49L32.23,934.9M42.91,931.8C42.91,933.51 41.46,934.9 39.68,934.9C37.9,934.9 36.45,933.51 36.45,931.8C36.45,930.09 37.9,928.7 39.68,928.7C41.46,928.7 42.91,930.09 42.91,931.8M42.91,928.7L42.91,937.5Q42.91,940.11 39.91,940.11Q37.37,940.11 36.84,937.94M54.05,931.8C54.05,933.51 52.5,934.9 50.59,934.9C48.68,934.9 47.13,933.51 47.13,931.8C47.13,930.09 48.68,928.7 50.59,928.7C52.5,928.7 54.05,930.09 54.05,931.8M58.27,924.61L58.27,934.9M62.5,928.7L62.5,934.9M62.5,925.63L62.51,925.63M92.59,931.8C92.59,933.51 91.11,934.9 89.29,934.9C87.47,934.9 86,933.51 86,931.8C86,930.09 87.47,928.7 89.29,928.7C91.11,928.7 92.59,930.09 92.59,931.8M92.59,924.61L92.59,934.9M96.9,928.7L96.9,934.9M96.9,925.63L96.91,925.63M110.5,927.34L112.6,925.63L112.6,934.9M110.5,934.9L114.7,934.9M119.07,928.02Q119.91,925.63 122.26,925.63Q125.2,925.97 124.36,929.01L118.9,934.9L125.2,934.9M136.12,930.44C136.12,932.9 134.71,934.9 132.97,934.9C131.23,934.9 129.82,932.9 129.82,930.44C129.82,927.9 131.23,925.7 132.97,925.7C134.71,925.7 136.12,927.9 136.12,930.44M144.1,926.65C144.1,927.41 143.35,928.02 142.42,928.02C141.49,928.02 140.74,927.41 140.74,926.65C140.74,925.9 141.49,925.29 142.42,925.29C143.35,925.29 144.1,925.9 144.1,926.65M152.7,934.9L152.7,934.9M174.4,924.61L174.4,934.9M178.1,931.8L183.5,931.8C183.5,930.35 182.58,929.09 181.29,928.77C179.99,928.43 178.68,929.17 178.12,930.49C177.56,931.81 177.91,933.37 178.96,934.26C180.01,935.24 181.48,935.19 182.49,934.17M193.4,924.61L193.4,934.9M197.7,931.8L203.96,931.8C203.96,930.35 202.89,929.09 201.39,928.77C199.89,928.43 198.36,929.17 197.71,930.49C197.06,931.81 197.47,933.37 198.69,934.26C199.91,935.24 201.61,935.19 202.79,934.17M214.08,931.8C214.08,933.51 212.71,934.9 211.02,934.9C209.33,934.9 207.96,933.51 207.96,931.8C207.96,930.09 209.33,928.7 211.02,928.7C212.71,928.7 214.08,930.09 214.08,931.8M214.08,928.7L214.08,937.5Q214.08,940.11 211.24,940.11Q208.84,940.11 208.33,937.94M224.2,931.8C224.2,933.51 222.84,934.9 221.15,934.9C219.46,934.9 218.09,933.51 218.09,931.8C218.09,930.09 219.46,928.7 221.15,928.7C222.84,928.7 224.2,930.09 224.2,931.8M224.2,928.7L224.2,934.9M228.21,928.7L228.21,932.42Q228.21,934.9 230.47,934.9Q232.73,934.9 232.73,932.42L232.73,929.32M232.73,932.42Q232.73,934.9 234.98,934.9Q237.24,934.9 237.24,932.42L237.24,928.7M241.54,931.8L247.8,931.8C247.8,930.35 246.73,929.09 245.23,928.77C243.73,928.43 242.2,929.17 241.55,930.49C240.9,931.81 241.31,933.37 242.53,934.26C243.75,935.24 245.45,935.19 246.63,934.17M261.4,928.7L269.5,928.7M263.65,928.7L263.2,934.9M267.25,928.7L267.7,934.9M292.04,931.8L297.2,931.8C297.2,930.35 296.32,929.09 295.08,928.77C293.85,928.43 292.59,929.17 292.05,930.49C291.52,931.81 291.85,933.37 292.86,934.26C293.86,935.24 295.27,935.19 296.24,934.17M293.3,926.31L295.7,926.31M315.14,926.31Q314.09,924.61 312.55,924.95Q311.3,925.29 311.3,928.02L311.3,934.9M309.9,929.32L314.09,929.32M324.91,931.8C324.91,933.51 323.51,934.9 321.77,934.9C320.03,934.9 318.63,933.51 318.63,931.8C318.63,930.09 320.03,928.7 321.77,928.7C323.51,928.7 324.91,930.09 324.91,931.8M328.75,928.7L328.75,934.9M328.75,931.8Q329.45,928.7 332.94,929.01M336.78,928.7L336.78,934.9M336.78,931.18Q337.13,928.7 338.95,928.7Q341.11,928.7 341.11,931.18L341.11,934.9M341.11,931.18Q341.46,928.7 343.28,928.7Q345.44,928.7 345.44,931.18L345.44,934.9M355.15,931.8C355.15,933.51 353.83,934.9 352.21,934.9C350.59,934.9 349.28,933.51 349.28,931.8C349.28,930.09 350.59,928.7 352.21,928.7C353.83,928.7 355.15,930.09 355.15,931.8M355.15,928.7L355.15,934.9M360.73,925.63L360.73,933.04Q360.73,934.9 363.18,934.9M358.99,929.01L363.18,929.01M373.3,931.8C373.3,933.51 371.89,934.9 370.16,934.9C368.42,934.9 367.02,933.51 367.02,931.8C367.02,930.09 368.42,928.7 370.16,928.7C371.89,928.7 373.3,930.09 373.3,931.8M397.98,931.8C397.98,933.51 396.4,934.9 394.44,934.9C392.49,934.9 390.9,933.51 390.9,931.8C390.9,930.09 392.49,928.7 394.44,928.7C396.4,928.7 397.98,930.09 397.98,931.8M397.98,924.61L397.98,934.9M409.7,931.8C409.7,933.51 408.12,934.9 406.16,934.9C404.21,934.9 402.62,933.51 402.62,931.8C402.62,930.09 404.21,928.7 406.16,928.7C408.12,928.7 409.7,930.09 409.7,931.8M409.7,928.7L409.7,934.9M414.34,924.61L414.34,934.9M418.98,924.61L418.98,934.9M430.7,931.8C430.7,933.51 429.11,934.9 427.16,934.9C425.2,934.9 423.62,933.51 423.62,931.8C423.62,930.09 425.2,928.7 427.16,928.7C429.11,928.7 430.7,930.09 430.7,931.8M430.7,928.7L430.7,934.9M448.16,929.63Q447.48,928.7 445.85,928.7Q443.54,928.7 443.67,930.31Q443.94,931.68 445.98,931.8Q448.29,932.05 448.16,933.54Q447.88,934.9 445.71,934.9Q443.94,934.9 443.4,933.91M458.14,931.8C458.14,933.51 456.77,934.9 455.08,934.9C453.4,934.9 452.03,933.51 452.03,931.8C452.03,930.09 453.4,928.7 455.08,928.7C456.77,928.7 458.14,930.09 458.14,931.8M461.88,928.7L464.59,934.9L467.31,928.7M471.05,928.7L471.05,934.9M471.05,931.8Q471.73,928.7 475.12,929.01M484.57,931.8C484.57,933.51 483.29,934.9 481.71,934.9C480.14,934.9 478.86,933.51 478.86,931.8C478.86,930.09 480.14,928.7 481.71,928.7C483.29,928.7 484.57,930.09 484.57,931.8M484.57,928.7L484.57,934.9M488.3,928.7L488.3,940.11M494.01,931.8C494.01,933.51 492.73,934.9 491.15,934.9C489.58,934.9 488.3,933.51 488.3,931.8C488.3,930.09 489.58,928.7 491.15,928.7C492.73,928.7 494.01,930.09 494.01,931.8M497.74,928.7L497.74,940.11M503.45,931.8C503.45,933.51 502.17,934.9 500.6,934.9C499.02,934.9 497.74,933.51 497.74,931.8C497.74,930.09 499.02,928.7 500.6,928.7C502.17,928.7 503.45,930.09 503.45,931.8M513.3,931.8C513.3,933.51 511.93,934.9 510.24,934.9C508.55,934.9 507.19,933.51 507.19,931.8C507.19,930.09 508.55,928.7 510.24,928.7C511.93,928.7 513.3,930.09 513.3,931.8M521.79,929.63Q521.11,928.7 519.48,928.7Q517.17,928.7 517.31,930.31Q517.58,931.68 519.62,931.8Q521.93,932.05 521.79,933.54Q521.52,934.9 519.35,934.9Q517.58,934.9 517.04,933.91M525.66,928.7L525.66,934.9M525.66,925.63L525.67,925.63M529.4,928.7L534.49,928.7L529.4,934.9L534.49,934.9M538.23,928.7L538.23,934.9M538.23,925.63L538.24,925.63M548.08,931.8C548.08,933.51 546.71,934.9 545.02,934.9C543.33,934.9 541.97,933.51 541.97,931.8C541.97,930.09 543.33,928.7 545.02,928.7C546.71,928.7 548.08,930.09 548.08,931.8M551.82,928.7L551.82,934.9M551.82,931.49Q552.16,928.7 554.53,928.7Q557.25,928.7 557.25,931.49L557.25,934.9M561.26,931.8L567.1,931.8C567.1,930.35 566.1,929.09 564.7,928.77C563.31,928.43 561.88,929.17 561.27,930.49C560.67,931.81 561.05,933.37 562.18,934.26C563.32,935.24 564.91,935.19 566.01,934.17M599.57,931.8C599.57,933.51 597.99,934.9 596.04,934.9C594.08,934.9 592.5,933.51 592.5,931.8C592.5,930.09 594.08,928.7 596.04,928.7C597.99,928.7 599.57,930.09 599.57,931.8M599.57,924.61L599.57,934.9M604.2,928.7L604.2,934.9M604.2,925.63L604.21,925.63M624.2,928.7L624.2,932.11Q624.2,934.9 626.73,934.9Q629.26,934.9 629.26,932.11M629.26,928.7L629.26,934.9M632.74,928.7L632.74,934.9M632.74,931.49Q633.06,928.7 635.27,928.7Q637.8,928.7 637.8,931.49L637.8,934.9M655.83,931.8C655.83,933.51 654.5,934.9 652.86,934.9C651.23,934.9 649.9,933.51 649.9,931.8C649.9,930.09 651.23,928.7 652.86,928.7C654.5,928.7 655.83,930.09 655.83,931.8M659.45,928.7L659.45,934.9M659.45,931.8Q660.11,928.7 663.41,929.01M667.03,924.61L667.03,934.9M672.56,931.8C672.56,933.51 671.33,934.9 669.8,934.9C668.27,934.9 667.03,933.51 667.03,931.8C667.03,930.09 668.27,928.7 669.8,928.7C671.33,928.7 672.56,930.09 672.56,931.8M676.19,928.7L676.19,934.9M676.19,925.63L676.19,925.63M681.46,925.63L681.46,933.04Q681.46,934.9 683.76,934.9M679.81,929.01L683.76,929.01M692.92,931.8C692.92,933.51 691.68,934.9 690.16,934.9C688.63,934.9 687.39,933.51 687.39,931.8C687.39,930.09 688.63,928.7 690.16,928.7C691.68,928.7 692.92,930.09 692.92,931.8M692.92,928.7L692.92,934.9M696.55,924.61L696.55,934.9M700.43,931.8L706.1,931.8C706.1,930.35 705.13,929.09 703.78,928.77C702.42,928.43 701.04,929.17 700.45,930.49C699.86,931.81 700.23,933.37 701.33,934.26C702.43,935.24 703.98,935.19 705.04,934.17M728.3,928.7L728.3,940.11M734.5,931.8C734.5,933.51 733.11,934.9 731.4,934.9C729.69,934.9 728.3,933.51 728.3,931.8C728.3,930.09 729.69,928.7 731.4,928.7C733.11,928.7 734.5,930.09 734.5,931.8M748.96,931.8C748.96,933.51 747.65,934.9 746.03,934.9C744.41,934.9 743.1,933.51 743.1,931.8C743.1,930.09 744.41,928.7 746.03,928.7C747.65,928.7 748.96,930.09 748.96,931.8M748.96,924.61L748.96,934.9M753.07,931.8L759.07,931.8C759.07,930.35 758.04,929.09 756.61,928.77C755.17,928.43 753.71,929.17 753.08,930.49C752.46,931.81 752.85,933.37 754.02,934.26C755.19,935.24 756.82,935.19 757.94,934.17M762.9,924.61L762.9,934.9M778.37,929.81C777.65,928.81 776.48,928.42 775.44,928.89C774.4,929.33 773.7,930.5 773.7,931.8C773.7,933.1 774.4,934.27 775.44,934.71C776.48,935.26 777.65,934.79 778.37,933.79M786.57,931.8C786.57,933.51 785.46,934.9 784.1,934.9C782.74,934.9 781.63,933.51 781.63,931.8C781.63,930.09 782.74,928.7 784.1,928.7C785.46,928.7 786.57,930.09 786.57,931.8M786.57,928.7L786.57,934.9M789.8,928.7L789.8,934.9M789.8,931.8Q790.38,928.7 793.32,929.01M796.55,924.61L796.55,934.9M801.49,931.8C801.49,933.51 800.38,934.9 799.02,934.9C797.66,934.9 796.55,933.51 796.55,931.8C796.55,930.09 797.66,928.7 799.02,928.7C800.38,928.7 801.49,930.09 801.49,931.8M810.01,931.8C810.01,933.51 808.82,934.9 807.36,934.9C805.9,934.9 804.72,933.51 804.72,931.8C804.72,930.09 805.9,928.7 807.36,928.7C808.82,928.7 810.01,930.09 810.01,931.8M813.24,928.7L813.24,934.9M813.24,931.49Q813.53,928.7 815.59,928.7Q817.94,928.7 817.94,931.49L817.94,934.9M821.17,928.7L821.17,934.9M821.17,925.63L821.17,925.63M829.07,929.81C828.35,928.81 827.18,928.42 826.14,928.89C825.1,929.33 824.4,930.5 824.4,931.8C824.4,933.1 825.1,934.27 826.14,934.71C827.18,935.26 828.35,934.79 829.07,933.79" stroke="#151515" stroke-width="1.8"/>
<path d="M13.84,961.8L19,961.8C19,960.35 18.12,959.09 16.88,958.77C15.65,958.43 14.39,959.17 13.85,960.49C13.32,961.81 13.65,963.37 14.66,964.26C15.66,965.22 17.07,965.17 18.04,964.17M30.8,958.7L30.8,962.11Q30.8,964.9 33.33,964.9Q35.86,964.9 35.86,962.11M35.86,958.7L35.86,964.9M39.34,958.7L39.34,964.9M39.34,961.49Q39.66,958.7 41.87,958.7Q44.4,958.7 44.4,961.49L44.4,964.9M71.32,961.8C71.32,963.51 69.95,964.9 68.26,964.9C66.57,964.9 65.2,963.51 65.2,961.8C65.2,960.09 66.57,958.7 68.26,958.7C69.95,958.7 71.32,960.09 71.32,961.8M75.06,958.7L75.06,964.9M75.06,961.8Q75.74,958.7 79.14,959.01M82.88,954.61L82.88,964.9M88.59,961.8C88.59,963.51 87.31,964.9 85.73,964.9C84.16,964.9 82.88,963.51 82.88,961.8C82.88,960.09 84.16,958.7 85.73,958.7C87.31,958.7 88.59,960.09 88.59,961.8M92.33,958.7L92.33,964.9M92.33,955.63L92.34,955.63M97.77,955.63L97.77,963.04Q97.77,964.9 100.15,964.9M96.07,959.01L100.15,959.01M109.6,961.8C109.6,963.51 108.32,964.9 106.75,964.9C105.17,964.9 103.89,963.51 103.89,961.8C103.89,960.09 105.17,958.7 106.75,958.7C108.32,958.7 109.6,960.09 109.6,961.8M109.6,958.7L109.6,964.9M113.34,954.61L113.34,964.9M117.35,961.8L123.2,961.8C123.2,960.35 122.2,959.09 120.8,958.77C119.4,958.43 117.97,959.17 117.37,960.49C116.76,961.81 117.14,963.37 118.28,964.26C119.42,965.22 121.01,965.17 122.11,964.17M137.7,958.7L137.7,969.74M144.9,961.8C144.9,963.51 143.29,964.9 141.3,964.9C139.31,964.9 137.7,963.51 137.7,961.8C137.7,960.09 139.31,958.7 141.3,958.7C143.29,958.7 144.9,960.09 144.9,961.8M175.12,961.8C175.12,963.51 173.95,964.9 172.51,964.9C171.07,964.9 169.9,963.51 169.9,961.8C169.9,960.09 171.07,958.7 172.51,958.7C173.95,958.7 175.12,960.09 175.12,961.8M175.12,954.61L175.12,964.9M178.79,961.8L184.14,961.8C184.14,960.35 183.23,959.09 181.95,958.77C180.67,958.43 179.36,959.17 178.81,960.49C178.25,961.81 178.6,963.37 179.64,964.26C180.68,965.22 182.14,965.17 183.14,964.17M187.56,954.61L187.56,964.9M190.98,954.61L190.98,964.9M194.4,954.61L194.4,957.68M221.53,961.8C221.53,963.51 220.11,964.9 218.37,964.9C216.62,964.9 215.2,963.51 215.2,961.8C215.2,960.09 216.62,958.7 218.37,958.7C220.11,958.7 221.53,960.09 221.53,961.8M230.32,959.63Q229.62,958.7 227.93,958.7Q225.54,958.7 225.68,960.31Q225.96,961.68 228.07,961.8Q230.46,962.05 230.32,963.54Q230.04,964.9 227.79,964.9Q225.96,964.9 225.4,963.91M239.25,959.63Q238.55,958.7 236.86,958.7Q234.47,958.7 234.61,960.31Q234.89,961.68 237,961.8Q239.39,962.05 239.25,963.54Q238.97,964.9 236.72,964.9Q234.89,964.9 234.33,963.91M243.26,958.7L243.26,964.9M243.26,955.63L243.27,955.63M253.04,961.8C253.04,963.51 251.72,964.9 250.09,964.9C248.45,964.9 247.13,963.51 247.13,961.8C247.13,960.09 248.45,958.7 250.09,958.7C251.72,958.7 253.04,960.09 253.04,961.8M253.04,958.7L253.04,967.32Q253.04,969.74 250.3,969.74Q247.98,969.74 247.48,967.72M257.19,961.8L263.24,961.8C263.24,960.35 262.21,959.09 260.76,958.77C259.31,958.43 257.83,959.17 257.2,960.49C256.58,961.81 256.97,963.37 258.15,964.26C259.32,965.22 260.97,965.17 262.11,964.17M267.11,958.7L267.11,964.9M267.11,961.49Q267.46,958.7 269.92,958.7Q272.73,958.7 272.73,961.49L272.73,964.9M282.93,961.8C282.93,963.51 281.51,964.9 279.77,964.9C278.02,964.9 276.6,963.51 276.6,961.8C276.6,960.09 278.02,958.7 279.77,958.7C281.51,958.7 282.93,960.09 282.93,961.8M286.8,964.9L286.81,964.9M305.4,955.29L308.53,964.9L311.66,955.29M315.4,958.7L315.4,964.9M315.4,955.63L315.41,955.63M327.58,959.63Q327,958.7 325.6,958.7Q323.62,958.7 323.73,960.31Q323.97,961.68 325.72,961.8Q327.7,962.05 327.58,963.54Q327.35,964.9 325.48,964.9Q323.97,964.9 323.5,963.91M336.16,961.8C336.16,963.51 334.99,964.9 333.54,964.9C332.09,964.9 330.91,963.51 330.91,961.8C330.91,960.09 332.09,958.7 333.54,958.7C334.99,958.7 336.16,960.09 336.16,961.8M339.37,958.7L339.37,964.9M339.37,961.49Q339.66,958.7 341.71,958.7Q344.04,958.7 344.04,961.49L344.04,964.9M352.5,961.8C352.5,963.51 351.32,964.9 349.87,964.9C348.42,964.9 347.25,963.51 347.25,961.8C347.25,960.09 348.42,958.7 349.87,958.7C351.32,958.7 352.5,960.09 352.5,961.8M384.79,961.8C384.79,963.51 383.65,964.9 382.24,964.9C380.84,964.9 379.7,963.51 379.7,961.8C379.7,960.09 380.84,958.7 382.24,958.7C383.65,958.7 384.79,960.09 384.79,961.8M384.79,954.61L384.79,964.9M388.36,961.8L393.57,961.8C393.57,960.35 392.68,959.09 391.43,958.77C390.19,958.43 388.91,959.17 388.37,960.49C387.83,961.81 388.17,963.37 389.18,964.26C390.2,965.22 391.62,965.17 392.6,964.17M396.9,958.7L396.9,964.9M396.9,955.63L396.91,955.63M413.42,961.8C413.42,963.51 412.36,964.9 411.06,964.9C409.76,964.9 408.7,963.51 408.7,961.8C408.7,960.09 409.76,958.7 411.06,958.7C412.36,958.7 413.42,960.09 413.42,961.8M413.42,954.61L413.42,964.9M421.56,961.8C421.56,963.51 420.43,964.9 419.03,964.9C417.64,964.9 416.5,963.51 416.5,961.8C416.5,960.09 417.64,958.7 419.03,958.7C420.43,958.7 421.56,960.09 421.56,961.8M424.65,958.7L424.65,969.74M429.36,961.8C429.36,963.51 428.31,964.9 427,964.9C425.7,964.9 424.65,963.51 424.65,961.8C424.65,960.09 425.7,958.7 427,958.7C428.31,958.7 429.36,960.09 429.36,961.8M432.45,958.7L432.45,969.74M437.17,961.8C437.17,963.51 436.11,964.9 434.81,964.9C433.51,964.9 432.45,963.51 432.45,961.8C432.45,960.09 433.51,958.7 434.81,958.7C436.11,958.7 437.17,960.09 437.17,961.8M440.26,958.7L440.26,964.9M440.26,955.63L440.26,955.63M443.57,961.8L448.4,961.8C448.4,960.35 447.57,959.09 446.42,958.77C445.26,958.43 444.08,959.17 443.58,960.49C443.08,961.81 443.39,963.37 444.33,964.26C445.27,965.22 446.59,965.17 447.49,964.17M452.89,955.63L452.89,963.04Q452.89,964.9 454.85,964.9M451.49,959.01L454.85,959.01M459.35,955.63L459.35,963.04Q459.35,964.9 461.31,964.9M457.94,959.01L461.31,959.01M464.4,958.7L464.4,964.9M464.4,955.63L464.41,955.63M499.7,954.61L499.7,964.9M503.14,958.7L503.14,964.9M503.14,955.63L503.14,955.63M506.57,954.61L506.57,964.9M511.82,961.8C511.82,963.51 510.65,964.9 509.2,964.9C507.75,964.9 506.57,963.51 506.57,961.8C506.57,960.09 507.75,958.7 509.2,958.7C510.65,958.7 511.82,960.09 511.82,961.8M515.51,961.8L520.88,961.8C520.88,960.35 519.96,959.09 518.68,958.77C517.39,958.43 516.08,959.17 515.52,960.49C514.96,961.81 515.31,963.37 516.36,964.26C517.4,965.22 518.87,965.17 519.87,964.17M524.32,958.7L524.32,964.9M524.32,961.8Q524.94,958.7 528.06,959.01M531.5,958.7L531.5,964.9M531.5,955.63L531.51,955.63M563.84,959.63Q563.16,958.7 561.54,958.7Q559.24,958.7 559.37,960.31Q559.64,961.68 561.67,961.8Q563.97,962.05 563.84,963.54Q563.57,964.9 561.4,964.9Q559.64,964.9 559.1,963.91M567.7,958.7L567.7,962.11Q567.7,964.9 570.4,964.9Q573.11,964.9 573.11,962.11M573.11,958.7L573.11,964.9M576.83,954.61L576.83,964.9M580.56,954.61L580.56,964.9M584.28,954.61L584.28,957.68M594.09,961.8C594.09,963.51 592.73,964.9 591.05,964.9C589.36,964.9 588,963.51 588,961.8C588,960.09 589.36,958.7 591.05,958.7C592.73,958.7 594.09,960.09 594.09,961.8M602.55,959.63Q601.87,958.7 600.25,958.7Q597.95,958.7 598.08,960.31Q598.36,961.68 600.39,961.8Q602.69,962.05 602.55,963.54Q602.28,964.9 600.12,964.9Q598.36,964.9 597.81,963.91M611.15,959.63Q610.47,958.7 608.85,958.7Q606.54,958.7 606.68,960.31Q606.95,961.68 608.98,961.8Q611.28,962.05 611.15,963.54Q610.88,964.9 608.71,964.9Q606.95,964.9 606.41,963.91M615.01,958.7L615.01,964.9M615.01,955.63L615.01,955.63M624.41,961.8C624.41,963.51 623.14,964.9 621.57,964.9C620,964.9 618.73,963.51 618.73,961.8C618.73,960.09 620,958.7 621.57,958.7C623.14,958.7 624.41,960.09 624.41,961.8M624.41,958.7L624.41,967.32Q624.41,969.74 621.77,969.74Q619.54,969.74 619.07,967.72M628.41,961.8L634.23,961.8C634.23,960.35 633.23,959.09 631.84,958.77C630.45,958.43 629.02,959.17 628.42,960.49C627.82,961.81 628.19,963.37 629.33,964.26C630.46,965.22 632.04,965.17 633.14,964.17M637.95,958.7L637.95,964.9M637.95,961.49Q638.29,958.7 640.66,958.7Q643.36,958.7 643.36,961.49L643.36,964.9M653.18,961.8C653.18,963.51 651.81,964.9 650.13,964.9C648.45,964.9 647.09,963.51 647.09,961.8C647.09,960.09 648.45,958.7 650.13,958.7C651.81,958.7 653.18,960.09 653.18,961.8M656.9,964.9L656.91,964.9" stroke="#151515" stroke-width="1.8"/>
<path d="M17.29,987.99L17.29,995.01M17.29,984.52L17.3,984.52M24.41,983.36L24.41,995.01M42.69,983.36L42.69,995.01M47.33,991.5L54.09,991.5C54.09,989.85 52.94,988.43 51.32,988.07C49.7,987.69 48.05,988.53 47.34,990.02C46.64,991.51 47.08,993.28 48.4,994.28C49.71,995.42 51.55,995.37 52.82,994.19M65.01,991.5C65.01,993.44 63.54,995.01 61.71,995.01C59.89,995.01 58.41,993.44 58.41,991.5C58.41,989.56 59.89,987.99 61.71,987.99C63.54,987.99 65.01,989.56 65.01,991.5M65.01,987.99L65.01,998.17Q65.01,1001.33 61.95,1001.33Q59.35,1001.33 58.8,998.7M75.94,991.5C75.94,993.44 74.46,995.01 72.64,995.01C70.82,995.01 69.34,993.44 69.34,991.5C69.34,989.56 70.82,987.99 72.64,987.99C74.46,987.99 75.94,989.56 75.94,991.5M75.94,987.99L75.94,995.01M80.26,987.99L80.26,992.2Q80.26,995.01 82.7,995.01Q85.14,995.01 85.14,992.2L85.14,988.69M85.14,992.2Q85.14,995.01 87.58,995.01Q90.01,995.01 90.01,992.2L90.01,987.99M94.65,991.5L101.41,991.5C101.41,989.85 100.26,988.43 98.64,988.07C97.02,987.69 95.37,988.53 94.67,990.02C93.97,991.51 94.4,993.28 95.72,994.28C97.04,995.42 98.88,995.37 100.15,994.19M130.64,989.24C129.66,988.11 128.04,987.67 126.59,988.2C125.15,988.71 124.19,990.02 124.19,991.5C124.19,992.98 125.15,994.29 126.59,994.8C128.04,995.45 129.66,994.89 130.64,993.76M135.15,990.1L140.84,990.1M135.15,992.9L140.84,992.9M152.61,991.5C152.61,993.44 150.97,995.01 148.96,995.01C146.94,995.01 145.3,993.44 145.3,991.5C145.3,989.56 146.94,987.99 148.96,987.99C150.97,987.99 152.61,989.56 152.61,991.5M172.69,987.99L172.69,995.01M172.69,991.5Q173.53,987.99 177.75,988.34M182.38,987.99L182.38,995.01M182.38,984.52L182.39,984.52M192.92,989.04Q192.08,987.99 190.05,987.99Q187.19,987.99 187.36,989.82Q187.69,991.36 190.22,991.5Q193.09,991.78 192.92,993.47Q192.58,995.01 189.88,995.01Q187.69,995.01 187.02,993.89M197.72,987.99L197.72,991.85Q197.72,995.01 201.09,995.01Q204.47,995.01 204.47,991.85M204.47,987.99L204.47,995.01M209.1,983.36L209.1,995.01M215.84,984.52L215.84,992.9Q215.84,995.01 218.79,995.01M213.74,988.34L218.79,988.34M230.51,991.5C230.51,993.44 228.93,995.01 226.97,995.01C225.01,995.01 223.43,993.44 223.43,991.5C223.43,989.56 225.01,987.99 226.97,987.99C228.93,987.99 230.51,989.56 230.51,991.5M230.51,987.99L230.51,995.01M255.99,987.99L255.99,995.01M255.99,990.8Q256.36,987.99 258.27,987.99Q260.56,987.99 260.56,990.8L260.56,995.01M260.56,990.8Q260.93,987.99 262.84,987.99Q265.12,987.99 265.12,990.8L265.12,995.01M275.81,991.5C275.81,993.44 274.32,995.01 272.49,995.01C270.66,995.01 269.18,993.44 269.18,991.5C269.18,989.56 270.66,987.99 272.49,987.99C274.32,987.99 275.81,989.56 275.81,991.5M279.86,983.36L279.86,995.01M285.75,984.52L285.75,992.9Q285.75,995.01 288.33,995.01M283.91,988.34L288.33,988.34M299.01,991.5C299.01,993.44 297.53,995.01 295.7,995.01C293.86,995.01 292.38,993.44 292.38,991.5C292.38,989.56 293.86,987.99 295.7,987.99C297.53,987.99 299.01,989.56 299.01,991.5M322.69,987.99L322.69,1001.33M328.88,991.5C328.88,993.44 327.5,995.01 325.79,995.01C324.08,995.01 322.69,993.44 322.69,991.5C322.69,989.56 324.08,987.99 325.79,987.99C327.5,987.99 328.88,989.56 328.88,991.5M339.58,991.5C339.58,993.44 338.09,995.01 336.26,995.01C334.43,995.01 332.94,993.44 332.94,991.5C332.94,989.56 334.43,987.99 336.26,987.99C338.09,987.99 339.58,989.56 339.58,991.5M343.63,983.36L343.63,995.01M353.88,991.5C353.88,993.44 352.49,995.01 350.78,995.01C349.07,995.01 347.69,993.44 347.69,991.5C347.69,989.56 349.07,987.99 350.78,987.99C352.49,987.99 353.88,989.56 353.88,991.5M353.88,987.99L353.88,995.01M357.94,987.99L357.94,995.01M357.94,991.5Q358.67,987.99 362.36,988.34M366.42,987.99L366.42,995.01M366.42,984.52L366.42,984.52M370.47,987.99L376,987.99L370.47,995.01L376,995.01M380.06,987.99L385.59,987.99L380.06,995.01L385.59,995.01M395.84,991.5C395.84,993.44 394.45,995.01 392.74,995.01C391.03,995.01 389.64,993.44 389.64,991.5C389.64,989.56 391.03,987.99 392.74,987.99C394.45,987.99 395.84,989.56 395.84,991.5M395.84,987.99L395.84,995.01M401.74,984.52L401.74,992.9Q401.74,995.01 404.32,995.01M399.89,988.34L404.32,988.34M415.01,991.5C415.01,993.44 413.52,995.01 411.69,995.01C409.86,995.01 408.37,993.44 408.37,991.5C408.37,989.56 409.86,987.99 411.69,987.99C413.52,987.99 415.01,989.56 415.01,991.5M447.33,991.5C447.33,993.44 445.91,995.01 444.16,995.01C442.41,995.01 440.99,993.44 440.99,991.5C440.99,989.56 442.41,987.99 444.16,987.99C445.91,987.99 447.33,989.56 447.33,991.5M447.33,983.36L447.33,995.01M457.83,991.5C457.83,993.44 456.41,995.01 454.66,995.01C452.91,995.01 451.49,993.44 451.49,991.5C451.49,989.56 452.91,987.99 454.66,987.99C456.41,987.99 457.83,989.56 457.83,991.5M457.83,987.99L457.83,995.01M463.87,984.52L463.87,992.9Q463.87,995.01 466.51,995.01M461.98,988.34L466.51,988.34M477.01,991.5C477.01,993.44 475.59,995.01 473.84,995.01C472.09,995.01 470.67,993.44 470.67,991.5C470.67,989.56 472.09,987.99 473.84,987.99C475.59,987.99 477.01,989.56 477.01,991.5M477.01,987.99L477.01,995.01M506.19,983.36L506.19,995.01M520.51,991.5C520.51,993.44 518.57,995.01 516.18,995.01C513.79,995.01 511.86,993.44 511.86,991.5C511.86,989.56 513.79,987.99 516.18,987.99C518.57,987.99 520.51,989.56 520.51,991.5M520.51,987.99L520.51,995.01M534.29,990.1L540.41,990.1M534.29,992.9L540.41,992.9M539.1,987.99L535.6,995.01M561.21,991.5C561.21,993.44 559.64,995.01 557.7,995.01C555.76,995.01 554.19,993.44 554.19,991.5C554.19,989.56 555.76,987.99 557.7,987.99C559.64,987.99 561.21,989.56 561.21,991.5M561.21,983.36L561.21,995.01M565.81,987.99L565.81,995.01M565.81,984.52L565.82,984.52M590.27,991.5L596.29,991.5C596.29,989.85 595.26,988.43 593.82,988.07C592.38,987.69 590.91,988.53 590.29,990.02C589.66,991.51 590.05,993.28 591.22,994.28C592.39,995.42 594.03,995.37 595.16,994.19M600.14,983.36L600.14,995.01M604.27,991.5L610.29,991.5C610.29,989.85 609.26,988.43 607.82,988.07C606.38,987.69 604.91,988.53 604.28,990.02C603.66,991.51 604.05,993.28 605.22,994.28C606.39,995.42 608.03,995.37 609.16,994.19M615.89,984.52L615.89,992.9Q615.89,995.01 618.34,995.01M614.14,988.34L618.34,988.34M623.94,984.52L623.94,992.9Q623.94,995.01 626.38,995.01M622.19,988.34L626.38,988.34M630.23,987.99L630.23,995.01M630.23,991.5Q630.93,987.99 634.43,988.34M644.58,991.5C644.58,993.44 643.17,995.01 641.43,995.01C639.69,995.01 638.28,993.44 638.28,991.5C638.28,989.56 639.69,987.99 641.43,987.99C643.17,987.99 644.58,989.56 644.58,991.5M648.43,987.99L648.43,995.01M648.43,991.15Q648.78,987.99 651.23,987.99Q654.03,987.99 654.03,991.15L654.03,995.01M658.16,991.5L664.18,991.5C664.18,989.85 663.15,988.43 661.71,988.07C660.27,987.69 658.8,988.53 658.18,990.02C657.55,991.51 657.94,993.28 659.11,994.28C660.28,995.42 661.92,995.37 663.05,994.19M673.91,991.5C673.91,993.44 672.59,995.01 670.97,995.01C669.34,995.01 668.03,993.44 668.03,991.5C668.03,989.56 669.34,987.99 670.97,987.99C672.59,987.99 673.91,989.56 673.91,991.5M673.91,987.99L673.91,998.17Q673.91,1001.33 671.18,1001.33Q668.87,1001.33 668.38,998.7M683.64,991.5C683.64,993.44 682.32,995.01 680.7,995.01C679.07,995.01 677.76,993.44 677.76,991.5C677.76,989.56 679.07,987.99 680.7,987.99C682.32,987.99 683.64,989.56 683.64,991.5M683.64,987.99L683.64,995.01M689.24,984.52L689.24,992.9Q689.24,995.01 691.69,995.01M687.49,988.34L691.69,988.34M695.53,987.99L695.53,995.01M695.53,984.52L695.54,984.52M699.38,987.99L702.18,995.01L704.98,987.99M708.83,987.99L708.83,995.01M708.83,984.52L708.84,984.52M714.43,984.52L714.43,992.9Q714.43,995.01 716.88,995.01M712.68,988.34L716.88,988.34M726.61,991.5C726.61,993.44 725.29,995.01 723.67,995.01C722.05,995.01 720.73,993.44 720.73,991.5C720.73,989.56 722.05,987.99 723.67,987.99C725.29,987.99 726.61,989.56 726.61,991.5M726.61,987.99L726.61,995.01M722.48,985.29L724.93,985.29M745.3,984.52L745.3,992.9Q745.3,995.01 747.83,995.01M743.49,988.34L747.83,988.34M751.81,987.99L751.81,995.01M751.81,991.5Q752.53,987.99 756.15,988.34M766.21,991.5C766.21,993.44 764.85,995.01 763.17,995.01C761.49,995.01 760.13,993.44 760.13,991.5C760.13,989.56 761.49,987.99 763.17,987.99C764.85,987.99 766.21,989.56 766.21,991.5M766.21,987.99L766.21,995.01M780.89,989.24C780.37,988.11 779.52,987.67 778.76,988.2C778,988.71 777.49,990.02 777.49,991.5C777.49,992.98 778,994.29 778.76,994.8C779.52,995.45 780.37,994.89 780.89,993.76M791.64,991.5L797.11,991.5C797.11,989.85 796.18,988.43 794.87,988.07C793.56,987.69 792.22,988.53 791.66,990.02C791.09,991.51 791.45,993.28 792.51,994.28C793.57,995.42 795.06,995.37 796.09,994.19M813.41,991.5C813.41,993.44 811.77,995.01 809.75,995.01C807.73,995.01 806.09,993.44 806.09,991.5C806.09,989.56 807.73,987.99 809.75,987.99C811.77,987.99 813.41,989.56 813.41,991.5" stroke="#151515" stroke-width="1.98"/></g>
<g stroke="#c283f2" stroke-width="2.0" fill="none" stroke-linecap="round" stroke-linejoin="round"><path d="M286.7,164.7 L242,220.7 M241.7,212.5 L242,220.7 L250.4,215.7"/><path d="M446.1,164.7 L502.1,218.8 M491,218 L502.1,218.8 L502.1,213"/></g>
<g stroke="#151515" stroke-width="2.3" fill="none" stroke-linecap="round" stroke-linejoin="round"><path d="M5,753 L11,753 M5,782.3 L11,782.3"/><path d="M113.5,753.6 L129.5,753.6 M125,750.5 L129.5,753.6 L125,756.5"/><path d="M113.5,783.4 L127,783.4 M122.5,780.3 L127,783.4 L122.5,786.4"/></g>
<g stroke="#151515" stroke-width="2.6" fill="none" stroke-linecap="round" stroke-linejoin="round">
<path d="M273.1,447.8 L296,469.7 L284.1,494.3 L256.2,494.3 L247.8,465.5 Z M296,469.7 L303.6,469.7"/>
<path d="M432,440.4 L453.8,460.4 L442.9,488 L419.7,488 L405.2,458.3 Z M454.5,457.5 L466,457.2 M453.8,464 L466.8,463.6"/>
<path d="M269.1,554.5 L292,568.6 L292,594.1 L271.8,610.4 L247.4,593 L247.4,571.3 Z M251.2,572.9 L268,561 M286.5,572.4 L286.5,590.3 M252.3,592 L271.8,605 M268.6,546.3 L268.6,554.5"/>
<path d="M435.8,556.5 L460.2,570.1 L460.2,595.7 L439.6,611.4 L415.7,593.5 L415.7,572.3 Z M419.5,574.5 L436.3,562.5 M454.8,573.9 L454.8,591.8 M420,592.4 L440.1,606 M433,547.3 L433,556.5 M438.5,547.3 L438.5,556.5"/>
</g>
<g stroke="#151515" stroke-width="2.3" fill="none" stroke-linecap="round"><path d="M249.7,391.3 L255.5,391.3 M272,391.3 L278,391.3 M295.4,391.3 L299.7,391.3 M318.5,391.3 L324.3,391.3"/><path d="M262.8,379 L262.8,382.6 M264,399 L263.3,403.6 M288.8,379.5 L288.8,383 M309.6,379.7 L309.6,384.8 M312.4,379.7 L312.4,384.8"/><path d="M384.7,388.8 L388.3,388.8 M406.4,390.6 L411.2,390.6 M430,390.6 L435.4,390.6 M451,390.6 L454.7,390.6"/><path d="M398.5,376.7 L398.5,381 M396,396 L396.5,400.3 M445,379.8 L445,383.8 M445,396.5 L445,400.5 M419.7,379.8 L419.7,384.6 M422.7,379.8 L422.7,384.6"/><path d="M313,455.4 L313,461.3 M315.4,455.4 L315.4,461.3 M325.5,468 L330.6,468"/></g>
<path d="M265.66,388.51C264.41,387.03 262.39,387.03 261.14,388.51C259.89,390.00 259.89,392.40 261.14,393.89C262.39,395.37 264.41,395.37 265.66,393.89M289.82,388.51C288.65,387.03 286.75,387.03 285.58,388.51C284.41,390.00 284.41,392.40 285.58,393.89C286.75,395.37 288.65,395.37 289.82,393.89M312.06,388.51C310.81,387.03 308.79,387.03 307.54,388.51C306.29,390.00 306.29,392.40 307.54,393.89C308.79,395.37 310.81,395.37 312.06,393.89M314.00,374.30C314.00,375.90 312.84,377.20 311.40,377.20C309.96,377.20 308.80,375.90 308.80,374.30C308.80,372.70 309.96,371.40 311.40,371.40C312.84,371.40 314.00,372.70 314.00,374.30M400.76,387.45C399.51,386.05 397.49,386.05 396.24,387.45C394.99,388.86 394.99,391.14 396.24,392.55C397.49,393.95 399.51,393.95 400.76,392.55M422.46,388.45C421.21,387.05 419.19,387.05 417.94,388.45C416.69,389.86 416.69,392.14 417.94,393.55C419.19,394.95 421.21,394.95 422.46,393.55M445.76,388.45C444.51,387.05 442.49,387.05 441.24,388.45C439.99,389.86 439.99,392.14 441.24,393.55C442.49,394.95 444.51,394.95 445.76,393.55M426.00,371.90C426.00,373.61 424.25,375.00 422.10,375.00C419.95,375.00 418.20,373.61 418.20,371.90C418.20,370.19 419.95,368.80 422.10,368.80C424.25,368.80 426.00,370.19 426.00,371.90M319.60,465.81C318.00,464.60 315.40,464.60 313.80,465.81C312.20,467.02 312.20,468.98 313.80,470.19C315.40,471.40 318.00,471.40 319.60,470.19M316.80,449.00C316.80,450.10 315.82,451.00 314.60,451.00C313.38,451.00 312.40,450.10 312.40,449.00C312.40,447.90 313.38,447.00 314.60,447.00C315.82,447.00 316.80,447.90 316.80,449.00M336.8,464.5 L336.8,470.6 M341.3,464.5 L341.3,470.6 M336.8,467.6 L341.3,467.6M483.80,459.30C483.80,461.29 482.19,462.90 480.20,462.90C478.21,462.90 476.60,461.29 476.60,459.30C476.60,457.31 478.21,455.70 480.20,455.70C482.19,455.70 483.80,457.31 483.80,459.30M499.50,424.80C499.50,426.24 498.11,427.40 496.40,427.40C494.69,427.40 493.30,426.24 493.30,424.80C493.30,423.36 494.69,422.20 496.40,422.20C498.11,422.20 499.50,423.36 499.50,424.80M438.50,539.70C438.50,541.52 436.93,543.00 435.00,543.00C433.07,543.00 431.50,541.52 431.50,539.70C431.50,537.88 433.07,536.40 435.00,536.40C436.93,536.40 438.50,537.88 438.50,539.70M270.35,538.63C269.22,537.66 267.38,537.66 266.25,538.63C265.12,539.61 265.12,541.19 266.25,542.17C267.38,543.14 269.22,543.14 270.35,542.17M292.20,541.70C292.20,542.86 290.77,543.80 289.00,543.80C287.23,543.80 285.80,542.86 285.80,541.70C285.80,540.54 287.23,539.60 289.00,539.60C290.77,539.60 292.20,540.54 292.20,541.70M255.4,540.6 L258.9,540.6 M277.4,539.6 L280.4,539.6 M277.4,543 L280.4,543" stroke="#151515" stroke-width="2.4" fill="none" stroke-linecap="round" stroke-linejoin="round"/></svg>
</body></html>
